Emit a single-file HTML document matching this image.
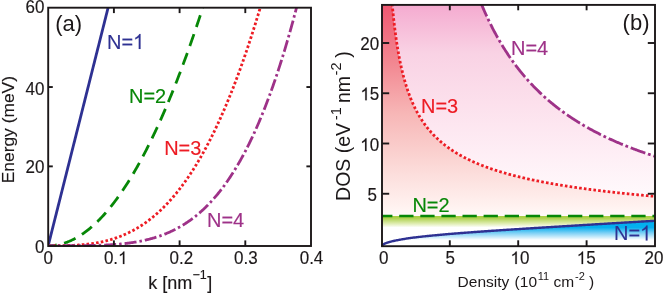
<!DOCTYPE html><html><head><meta charset="utf-8"><style>html,body{margin:0;padding:0;background:#fff;overflow:hidden}</style></head><body><svg width="664" height="293" viewBox="0 0 664 293" style="display:block;will-change:transform;font-family:'Liberation Sans',sans-serif">
<defs>
<linearGradient id="gb" gradientUnits="userSpaceOnUse" x1="0" y1="221" x2="0" y2="240"><stop offset="0.0000" stop-color="rgb(0,174,239)"/><stop offset="0.3421" stop-color="rgb(5,176,239)"/><stop offset="0.6316" stop-color="rgb(125,208,245)"/><stop offset="1.0000" stop-color="rgb(255,255,255)"/></linearGradient>
<linearGradient id="gg" gradientUnits="userSpaceOnUse" x1="0" y1="216" x2="0" y2="227.5"><stop offset="0.0000" stop-color="rgb(168,206,66)"/><stop offset="0.1739" stop-color="rgb(172,208,76)"/><stop offset="0.6087" stop-color="rgb(218,234,166)"/><stop offset="1.0000" stop-color="rgb(255,255,255)"/></linearGradient>
<linearGradient id="gr" gradientUnits="userSpaceOnUse" x1="0" y1="5" x2="0" y2="216"><stop offset="0.0000" stop-color="rgb(239,88,113)"/><stop offset="0.0142" stop-color="rgb(239,90,115)"/><stop offset="0.2749" stop-color="rgb(242,135,145)"/><stop offset="0.5118" stop-color="rgb(247,182,182)"/><stop offset="0.7488" stop-color="rgb(251,215,213)"/><stop offset="0.9621" stop-color="rgb(255,243,241)"/><stop offset="1.0000" stop-color="rgb(255,250,249)"/></linearGradient>
<linearGradient id="gp" gradientUnits="userSpaceOnUse" x1="0" y1="5" x2="0" y2="197"><stop offset="0.0000" stop-color="rgb(244,168,206)"/><stop offset="0.0260" stop-color="rgb(245,175,210)"/><stop offset="0.2500" stop-color="rgb(249,210,228)"/><stop offset="0.5104" stop-color="rgb(252,224,236)"/><stop offset="0.7708" stop-color="rgb(254,238,245)"/><stop offset="1.0000" stop-color="rgb(255,250,252)"/></linearGradient>
<clipPath id="ca"><rect x="48.2" y="7.7" width="262.80" height="239.20"/></clipPath>
<clipPath id="cb"><rect x="381.0" y="4.9" width="274.00" height="242.20"/></clipPath>
<clipPath id="cf"><rect x="382.0" y="4.9" width="273.00" height="241.30"/></clipPath>
</defs>
<rect width="664" height="293" fill="#fff"/>
<g clip-path="url(#cf)">
<path d="M481.32,3.90 L481.55,4.44 L482.07,5.68 L482.59,6.91 L483.11,8.12 L483.63,9.32 L484.15,10.51 L484.67,11.69 L485.19,12.86 L485.71,14.01 L486.23,15.15 L486.76,16.28 L487.28,17.41 L487.80,18.51 L488.32,19.61 L488.84,20.70 L489.36,21.78 L489.88,22.85 L490.40,23.90 L490.92,24.95 L491.44,25.99 L491.96,27.01 L492.48,28.03 L493.01,29.04 L493.53,30.04 L494.05,31.03 L494.57,32.01 L495.09,32.98 L495.61,33.94 L496.13,34.89 L496.65,35.84 L497.17,36.78 L497.69,37.70 L498.21,38.62 L498.74,39.54 L499.26,40.44 L499.78,41.33 L500.30,42.22 L500.82,43.10 L501.34,43.98 L501.86,44.84 L502.38,45.70 L502.90,46.55 L503.42,47.39 L503.94,48.23 L504.47,49.05 L504.99,49.88 L505.51,50.69 L506.03,51.50 L506.55,52.30 L507.07,53.09 L507.59,53.88 L508.11,54.66 L508.63,55.44 L509.15,56.21 L509.67,56.97 L510.19,57.73 L510.72,58.48 L511.24,59.22 L511.76,59.96 L512.28,60.69 L512.80,61.42 L513.32,62.14 L513.84,62.86 L514.36,63.57 L514.88,64.27 L515.40,64.97 L515.92,65.66 L516.45,66.35 L516.97,67.03 L517.49,67.71 L518.01,68.38 L518.53,69.05 L519.05,69.71 L519.57,70.37 L520.09,71.02 L520.61,71.67 L521.13,72.31 L521.65,72.95 L522.18,73.58 L522.70,74.21 L523.22,74.83 L523.74,75.45 L524.26,76.07 L524.78,76.68 L525.30,77.28 L525.82,77.88 L526.34,78.48 L526.86,79.07 L527.38,79.66 L527.90,80.24 L528.43,80.82 L528.95,81.40 L529.47,81.97 L529.99,82.54 L530.51,83.10 L531.03,83.66 L531.55,84.22 L532.07,84.77 L532.59,85.32 L533.11,85.87 L533.63,86.41 L534.16,86.95 L534.68,87.48 L535.20,88.01 L535.72,88.54 L536.24,89.06 L536.76,89.58 L537.28,90.09 L537.80,90.61 L538.32,91.12 L538.84,91.62 L539.36,92.12 L539.89,92.62 L540.41,93.12 L540.93,93.61 L541.45,94.10 L541.97,94.59 L542.49,95.07 L543.01,95.55 L543.53,96.03 L544.05,96.50 L544.57,96.97 L545.09,97.44 L545.61,97.91 L546.14,98.37 L546.66,98.83 L547.18,99.28 L547.70,99.74 L548.22,100.19 L548.74,100.63 L549.26,101.08 L549.78,101.52 L550.30,101.96 L550.82,102.40 L551.34,102.83 L551.87,103.26 L552.39,103.69 L552.91,104.12 L553.43,104.54 L553.95,104.96 L554.47,105.38 L554.99,105.80 L555.51,106.21 L556.03,106.62 L556.55,107.03 L557.07,107.43 L557.60,107.84 L558.12,108.24 L558.64,108.64 L559.16,109.04 L559.68,109.43 L560.20,109.82 L560.72,110.21 L561.24,110.60 L561.76,110.98 L562.28,111.37 L562.80,111.75 L563.32,112.13 L563.85,112.50 L564.37,112.88 L564.89,113.25 L565.41,113.62 L565.93,113.99 L566.45,114.35 L566.97,114.72 L567.49,115.08 L568.01,115.44 L568.53,115.80 L569.05,116.15 L569.58,116.51 L570.10,116.86 L570.62,117.21 L571.14,117.56 L571.66,117.90 L572.18,118.25 L572.70,118.59 L573.22,118.93 L573.74,119.27 L574.26,119.61 L574.78,119.94 L575.31,120.27 L575.83,120.61 L576.35,120.94 L576.87,121.26 L577.39,121.59 L577.91,121.91 L578.43,122.24 L578.95,122.56 L579.47,122.88 L579.99,123.20 L580.51,123.51 L581.03,123.83 L581.56,124.14 L582.08,124.45 L582.60,124.76 L583.12,125.07 L583.64,125.37 L584.16,125.68 L584.68,125.98 L585.20,126.28 L585.72,126.58 L586.24,126.88 L586.76,127.18 L587.29,127.47 L587.81,127.77 L588.33,128.06 L588.85,128.35 L589.37,128.64 L589.89,128.93 L590.41,129.22 L590.93,129.50 L591.45,129.79 L591.97,130.07 L592.49,130.35 L593.02,130.63 L593.54,130.91 L594.06,131.18 L594.58,131.46 L595.10,131.73 L595.62,132.01 L596.14,132.28 L596.66,132.55 L597.18,132.82 L597.70,133.09 L598.22,133.35 L598.74,133.62 L599.27,133.88 L599.79,134.14 L600.31,134.41 L600.83,134.67 L601.35,134.92 L601.87,135.18 L602.39,135.44 L602.91,135.69 L603.43,135.95 L603.95,136.20 L604.47,136.45 L605.00,136.70 L605.52,136.95 L606.04,137.20 L606.56,137.45 L607.08,137.69 L607.60,137.94 L608.12,138.18 L608.64,138.43 L609.16,138.67 L609.68,138.91 L610.20,139.15 L610.73,139.38 L611.25,139.62 L611.77,139.86 L612.29,140.09 L612.81,140.33 L613.33,140.56 L613.85,140.79 L614.37,141.02 L614.89,141.25 L615.41,141.48 L615.93,141.71 L616.45,141.93 L616.98,142.16 L617.50,142.38 L618.02,142.61 L618.54,142.83 L619.06,143.05 L619.58,143.27 L620.10,143.49 L620.62,143.71 L621.14,143.93 L621.66,144.15 L622.18,144.36 L622.71,144.58 L623.23,144.79 L623.75,145.01 L624.27,145.22 L624.79,145.43 L625.31,145.64 L625.83,145.85 L626.35,146.06 L626.87,146.27 L627.39,146.47 L627.91,146.68 L628.44,146.88 L628.96,147.09 L629.48,147.29 L630.00,147.49 L630.52,147.70 L631.04,147.90 L631.56,148.10 L632.08,148.30 L632.60,148.50 L633.12,148.69 L633.64,148.89 L634.16,149.09 L634.69,149.28 L635.21,149.48 L635.73,149.67 L636.25,149.86 L636.77,150.05 L637.29,150.25 L637.81,150.44 L638.33,150.63 L638.85,150.81 L639.37,151.00 L639.89,151.19 L640.42,151.38 L640.94,151.56 L641.46,151.75 L641.98,151.93 L642.50,152.12 L643.02,152.30 L643.54,152.48 L644.06,152.66 L644.58,152.84 L645.10,153.02 L645.62,153.20 L646.15,153.38 L646.67,153.56 L647.19,153.74 L647.71,153.91 L648.23,154.09 L648.75,154.26 L649.27,154.44 L649.79,154.61 L650.31,154.79 L650.83,154.96 L651.35,155.13 L651.87,155.30 L652.40,155.47 L652.92,155.64 L653.44,155.81 L653.96,155.98 L654.48,156.15 L655.00,156.31 L655.00,196.36 L654.48,196.31 L653.96,196.27 L653.44,196.22 L652.92,196.18 L652.40,196.13 L651.87,196.08 L651.35,196.04 L650.83,195.99 L650.31,195.94 L649.79,195.90 L649.27,195.85 L648.75,195.80 L648.23,195.76 L647.71,195.71 L647.19,195.66 L646.67,195.62 L646.15,195.57 L645.62,195.52 L645.10,195.47 L644.58,195.42 L644.06,195.38 L643.54,195.33 L643.02,195.28 L642.50,195.23 L641.98,195.18 L641.46,195.13 L640.94,195.08 L640.42,195.04 L639.89,194.99 L639.37,194.94 L638.85,194.89 L638.33,194.84 L637.81,194.79 L637.29,194.74 L636.77,194.69 L636.25,194.64 L635.73,194.59 L635.21,194.54 L634.69,194.48 L634.16,194.43 L633.64,194.38 L633.12,194.33 L632.60,194.28 L632.08,194.23 L631.56,194.18 L631.04,194.12 L630.52,194.07 L630.00,194.02 L629.48,193.97 L628.96,193.91 L628.44,193.86 L627.91,193.81 L627.39,193.76 L626.87,193.70 L626.35,193.65 L625.83,193.60 L625.31,193.54 L624.79,193.49 L624.27,193.43 L623.75,193.38 L623.23,193.33 L622.71,193.27 L622.18,193.22 L621.66,193.16 L621.14,193.11 L620.62,193.05 L620.10,192.99 L619.58,192.94 L619.06,192.88 L618.54,192.83 L618.02,192.77 L617.50,192.71 L616.98,192.66 L616.45,192.60 L615.93,192.54 L615.41,192.49 L614.89,192.43 L614.37,192.37 L613.85,192.31 L613.33,192.26 L612.81,192.20 L612.29,192.14 L611.77,192.08 L611.25,192.02 L610.73,191.96 L610.20,191.90 L609.68,191.84 L609.16,191.78 L608.64,191.72 L608.12,191.66 L607.60,191.60 L607.08,191.54 L606.56,191.48 L606.04,191.42 L605.52,191.36 L605.00,191.30 L604.47,191.24 L603.95,191.18 L603.43,191.11 L602.91,191.05 L602.39,190.99 L601.87,190.93 L601.35,190.86 L600.83,190.80 L600.31,190.74 L599.79,190.67 L599.27,190.61 L598.74,190.55 L598.22,190.48 L597.70,190.42 L597.18,190.35 L596.66,190.29 L596.14,190.22 L595.62,190.16 L595.10,190.09 L594.58,190.03 L594.06,189.96 L593.54,189.89 L593.02,189.83 L592.49,189.76 L591.97,189.69 L591.45,189.63 L590.93,189.56 L590.41,189.49 L589.89,189.42 L589.37,189.36 L588.85,189.29 L588.33,189.22 L587.81,189.15 L587.29,189.08 L586.76,189.01 L586.24,188.94 L585.72,188.87 L585.20,188.80 L584.68,188.73 L584.16,188.66 L583.64,188.59 L583.12,188.52 L582.60,188.44 L582.08,188.37 L581.56,188.30 L581.03,188.23 L580.51,188.15 L579.99,188.08 L579.47,188.01 L578.95,187.93 L578.43,187.86 L577.91,187.78 L577.39,187.71 L576.87,187.64 L576.35,187.56 L575.83,187.48 L575.31,187.41 L574.78,187.33 L574.26,187.26 L573.74,187.18 L573.22,187.10 L572.70,187.02 L572.18,186.95 L571.66,186.87 L571.14,186.79 L570.62,186.71 L570.10,186.63 L569.58,186.55 L569.05,186.47 L568.53,186.39 L568.01,186.31 L567.49,186.23 L566.97,186.15 L566.45,186.07 L565.93,185.99 L565.41,185.91 L564.89,185.82 L564.37,185.74 L563.85,185.66 L563.32,185.57 L562.80,185.49 L562.28,185.41 L561.76,185.32 L561.24,185.24 L560.72,185.15 L560.20,185.07 L559.68,184.98 L559.16,184.89 L558.64,184.81 L558.12,184.72 L557.60,184.63 L557.07,184.54 L556.55,184.46 L556.03,184.37 L555.51,184.28 L554.99,184.19 L554.47,184.10 L553.95,184.01 L553.43,183.92 L552.91,183.83 L552.39,183.74 L551.87,183.64 L551.34,183.55 L550.82,183.46 L550.30,183.36 L549.78,183.27 L549.26,183.18 L548.74,183.08 L548.22,182.99 L547.70,182.89 L547.18,182.80 L546.66,182.70 L546.14,182.60 L545.61,182.51 L545.09,182.41 L544.57,182.31 L544.05,182.21 L543.53,182.11 L543.01,182.01 L542.49,181.91 L541.97,181.81 L541.45,181.71 L540.93,181.61 L540.41,181.51 L539.89,181.40 L539.36,181.30 L538.84,181.20 L538.32,181.09 L537.80,180.99 L537.28,180.88 L536.76,180.78 L536.24,180.67 L535.72,180.56 L535.20,180.46 L534.68,180.35 L534.16,180.24 L533.63,180.13 L533.11,180.02 L532.59,179.91 L532.07,179.80 L531.55,179.69 L531.03,179.58 L530.51,179.47 L529.99,179.35 L529.47,179.24 L528.95,179.12 L528.43,179.01 L527.90,178.89 L527.38,178.78 L526.86,178.66 L526.34,178.54 L525.82,178.43 L525.30,178.31 L524.78,178.19 L524.26,178.07 L523.74,177.95 L523.22,177.83 L522.70,177.71 L522.18,177.58 L521.65,177.46 L521.13,177.34 L520.61,177.21 L520.09,177.09 L519.57,176.96 L519.05,176.83 L518.53,176.71 L518.01,176.58 L517.49,176.45 L516.97,176.32 L516.45,176.19 L515.92,176.06 L515.40,175.93 L514.88,175.79 L514.36,175.66 L513.84,175.52 L513.32,175.39 L512.80,175.25 L512.28,175.12 L511.76,174.98 L511.24,174.84 L510.72,174.70 L510.19,174.56 L509.67,174.42 L509.15,174.28 L508.63,174.14 L508.11,173.99 L507.59,173.85 L507.07,173.70 L506.55,173.56 L506.03,173.41 L505.51,173.26 L504.99,173.11 L504.47,172.96 L503.94,172.81 L503.42,172.66 L502.90,172.51 L502.38,172.36 L501.86,172.20 L501.34,172.04 L500.82,171.89 L500.30,171.73 L499.78,171.57 L499.26,171.41 L498.74,171.25 L498.21,171.09 L497.69,170.93 L497.17,170.76 L496.65,170.60 L496.13,170.43 L495.61,170.26 L495.09,170.09 L494.57,169.92 L494.05,169.75 L493.53,169.58 L493.01,169.41 L492.48,169.23 L491.96,169.06 L491.44,168.88 L490.92,168.70 L490.40,168.52 L489.88,168.34 L489.36,168.16 L488.84,167.97 L488.32,167.79 L487.80,167.60 L487.28,167.41 L486.76,167.23 L486.23,167.04 L485.71,166.84 L485.19,166.65 L484.67,166.45 L484.15,166.26 L483.63,166.06 L483.11,165.86 L482.59,165.66 L482.07,165.46 L481.55,165.25 L481.03,165.05 L480.50,164.84 L479.98,164.63 L479.46,164.42 L478.94,164.21 L478.42,164.00 L477.90,163.78 L477.38,163.56 L476.86,163.34 L476.34,163.12 L475.82,162.90 L475.30,162.68 L474.77,162.45 L474.25,162.22 L473.73,161.99 L473.21,161.76 L472.69,161.52 L472.17,161.29 L471.65,161.05 L471.13,160.81 L470.61,160.57 L470.09,160.32 L469.57,160.07 L469.05,159.83 L468.52,159.57 L468.00,159.32 L467.48,159.06 L466.96,158.81 L466.44,158.55 L465.92,158.28 L465.40,158.02 L464.88,157.75 L464.36,157.48 L463.84,157.21 L463.32,156.93 L462.79,156.65 L462.27,156.37 L461.75,156.09 L461.23,155.80 L460.71,155.51 L460.19,155.22 L459.67,154.93 L459.15,154.63 L458.63,154.33 L458.11,154.02 L457.59,153.72 L457.06,153.41 L456.54,153.09 L456.02,152.78 L455.50,152.46 L454.98,152.13 L454.46,151.81 L453.94,151.48 L453.42,151.14 L452.90,150.80 L452.38,150.46 L451.86,150.12 L451.34,149.77 L450.81,149.42 L450.29,149.06 L449.77,148.70 L449.25,148.33 L448.73,147.96 L448.21,147.59 L447.69,147.21 L447.17,146.83 L446.65,146.44 L446.13,146.05 L445.61,145.65 L445.08,145.25 L444.56,144.85 L444.04,144.43 L443.52,144.02 L443.00,143.60 L442.48,143.17 L441.96,142.74 L441.44,142.30 L440.92,141.85 L440.40,141.40 L439.88,140.95 L439.35,140.49 L438.83,140.02 L438.31,139.54 L437.79,139.06 L437.27,138.57 L436.75,138.08 L436.23,137.58 L435.71,137.07 L435.19,136.55 L434.67,136.03 L434.15,135.50 L433.63,134.96 L433.10,134.41 L432.58,133.85 L432.06,133.29 L431.54,132.71 L431.02,132.13 L430.50,131.54 L429.98,130.94 L429.46,130.33 L428.94,129.70 L428.42,129.07 L427.90,128.43 L427.37,127.78 L426.85,127.11 L426.33,126.44 L425.81,125.75 L425.29,125.05 L424.77,124.34 L424.25,123.61 L423.73,122.88 L423.21,122.12 L422.69,121.36 L422.17,120.58 L421.64,119.78 L421.12,118.97 L420.60,118.14 L420.08,117.30 L419.56,116.43 L419.04,115.56 L418.52,114.66 L418.00,113.74 L417.48,112.80 L416.96,111.85 L416.44,110.87 L415.92,109.87 L415.39,108.84 L414.87,107.79 L414.35,106.72 L413.83,105.62 L413.31,104.50 L412.79,103.35 L412.27,102.17 L411.75,100.95 L411.23,99.71 L410.71,98.43 L410.19,97.12 L409.66,95.77 L409.14,94.39 L408.62,92.97 L408.10,91.50 L407.58,89.99 L407.06,88.43 L406.54,86.83 L406.02,85.18 L405.50,83.47 L404.98,81.71 L404.46,79.88 L403.93,78.00 L403.41,76.04 L402.89,74.02 L402.37,71.92 L401.85,69.75 L401.33,67.48 L400.81,65.13 L400.29,62.68 L399.77,60.13 L399.25,57.46 L398.73,54.68 L398.21,51.77 L397.68,48.72 L397.16,45.52 L396.64,42.16 L396.12,38.62 L395.60,34.88 L395.08,30.94 L395.01,30.41 L394.94,29.87 L394.88,29.33 L394.81,28.79 L394.74,28.24 L394.67,27.69 L394.60,27.13 L394.54,26.57 L394.47,26.00 L394.40,25.43 L394.33,24.86 L394.26,24.28 L394.20,23.70 L394.13,23.11 L394.06,22.52 L393.99,21.92 L393.92,21.32 L393.85,20.71 L393.79,20.10 L393.72,19.48 L393.65,18.85 L393.58,18.23 L393.51,17.59 L393.45,16.96 L393.38,16.31 L393.31,15.66 L393.24,15.01 L393.17,14.35 L393.11,13.68 L393.04,13.01 L392.97,12.33 L392.90,11.64 L392.83,10.95 L392.77,10.26 L392.70,9.55 L392.63,8.84 L392.56,8.13 L392.49,7.41 L392.43,6.68 L392.36,5.94 L392.29,5.20 L392.22,4.45 L392.17,3.90 Z" fill="url(#gp)"/>
<path d="M392.17,3.90 L392.22,4.45 L392.29,5.20 L392.36,5.94 L392.43,6.68 L392.49,7.41 L392.56,8.13 L392.63,8.84 L392.70,9.55 L392.77,10.26 L392.83,10.95 L392.90,11.64 L392.97,12.33 L393.04,13.01 L393.11,13.68 L393.17,14.35 L393.24,15.01 L393.31,15.66 L393.38,16.31 L393.45,16.96 L393.51,17.59 L393.58,18.23 L393.65,18.85 L393.72,19.48 L393.79,20.10 L393.85,20.71 L393.92,21.32 L393.99,21.92 L394.06,22.52 L394.13,23.11 L394.20,23.70 L394.26,24.28 L394.33,24.86 L394.40,25.43 L394.47,26.00 L394.54,26.57 L394.60,27.13 L394.67,27.69 L394.74,28.24 L394.81,28.79 L394.88,29.33 L394.94,29.87 L395.01,30.41 L395.08,30.94 L395.60,34.88 L396.12,38.62 L396.64,42.16 L397.16,45.52 L397.68,48.72 L398.21,51.77 L398.73,54.68 L399.25,57.46 L399.77,60.13 L400.29,62.68 L400.81,65.13 L401.33,67.48 L401.85,69.75 L402.37,71.92 L402.89,74.02 L403.41,76.04 L403.93,78.00 L404.46,79.88 L404.98,81.71 L405.50,83.47 L406.02,85.18 L406.54,86.83 L407.06,88.43 L407.58,89.99 L408.10,91.50 L408.62,92.97 L409.14,94.39 L409.66,95.77 L410.19,97.12 L410.71,98.43 L411.23,99.71 L411.75,100.95 L412.27,102.17 L412.79,103.35 L413.31,104.50 L413.83,105.62 L414.35,106.72 L414.87,107.79 L415.39,108.84 L415.92,109.87 L416.44,110.87 L416.96,111.85 L417.48,112.80 L418.00,113.74 L418.52,114.66 L419.04,115.56 L419.56,116.43 L420.08,117.30 L420.60,118.14 L421.12,118.97 L421.64,119.78 L422.17,120.58 L422.69,121.36 L423.21,122.12 L423.73,122.88 L424.25,123.61 L424.77,124.34 L425.29,125.05 L425.81,125.75 L426.33,126.44 L426.85,127.11 L427.37,127.78 L427.90,128.43 L428.42,129.07 L428.94,129.70 L429.46,130.33 L429.98,130.94 L430.50,131.54 L431.02,132.13 L431.54,132.71 L432.06,133.29 L432.58,133.85 L433.10,134.41 L433.63,134.96 L434.15,135.50 L434.67,136.03 L435.19,136.55 L435.71,137.07 L436.23,137.58 L436.75,138.08 L437.27,138.57 L437.79,139.06 L438.31,139.54 L438.83,140.02 L439.35,140.49 L439.88,140.95 L440.40,141.40 L440.92,141.85 L441.44,142.30 L441.96,142.74 L442.48,143.17 L443.00,143.60 L443.52,144.02 L444.04,144.43 L444.56,144.85 L445.08,145.25 L445.61,145.65 L446.13,146.05 L446.65,146.44 L447.17,146.83 L447.69,147.21 L448.21,147.59 L448.73,147.96 L449.25,148.33 L449.77,148.70 L450.29,149.06 L450.81,149.42 L451.34,149.77 L451.86,150.12 L452.38,150.46 L452.90,150.80 L453.42,151.14 L453.94,151.48 L454.46,151.81 L454.98,152.13 L455.50,152.46 L456.02,152.78 L456.54,153.09 L457.06,153.41 L457.59,153.72 L458.11,154.02 L458.63,154.33 L459.15,154.63 L459.67,154.93 L460.19,155.22 L460.71,155.51 L461.23,155.80 L461.75,156.09 L462.27,156.37 L462.79,156.65 L463.32,156.93 L463.84,157.21 L464.36,157.48 L464.88,157.75 L465.40,158.02 L465.92,158.28 L466.44,158.55 L466.96,158.81 L467.48,159.06 L468.00,159.32 L468.52,159.57 L469.05,159.83 L469.57,160.07 L470.09,160.32 L470.61,160.57 L471.13,160.81 L471.65,161.05 L472.17,161.29 L472.69,161.52 L473.21,161.76 L473.73,161.99 L474.25,162.22 L474.77,162.45 L475.30,162.68 L475.82,162.90 L476.34,163.12 L476.86,163.34 L477.38,163.56 L477.90,163.78 L478.42,164.00 L478.94,164.21 L479.46,164.42 L479.98,164.63 L480.50,164.84 L481.03,165.05 L481.55,165.25 L482.07,165.46 L482.59,165.66 L483.11,165.86 L483.63,166.06 L484.15,166.26 L484.67,166.45 L485.19,166.65 L485.71,166.84 L486.23,167.04 L486.76,167.23 L487.28,167.41 L487.80,167.60 L488.32,167.79 L488.84,167.97 L489.36,168.16 L489.88,168.34 L490.40,168.52 L490.92,168.70 L491.44,168.88 L491.96,169.06 L492.48,169.23 L493.01,169.41 L493.53,169.58 L494.05,169.75 L494.57,169.92 L495.09,170.09 L495.61,170.26 L496.13,170.43 L496.65,170.60 L497.17,170.76 L497.69,170.93 L498.21,171.09 L498.74,171.25 L499.26,171.41 L499.78,171.57 L500.30,171.73 L500.82,171.89 L501.34,172.04 L501.86,172.20 L502.38,172.36 L502.90,172.51 L503.42,172.66 L503.94,172.81 L504.47,172.96 L504.99,173.11 L505.51,173.26 L506.03,173.41 L506.55,173.56 L507.07,173.70 L507.59,173.85 L508.11,173.99 L508.63,174.14 L509.15,174.28 L509.67,174.42 L510.19,174.56 L510.72,174.70 L511.24,174.84 L511.76,174.98 L512.28,175.12 L512.80,175.25 L513.32,175.39 L513.84,175.52 L514.36,175.66 L514.88,175.79 L515.40,175.93 L515.92,176.06 L516.45,176.19 L516.97,176.32 L517.49,176.45 L518.01,176.58 L518.53,176.71 L519.05,176.83 L519.57,176.96 L520.09,177.09 L520.61,177.21 L521.13,177.34 L521.65,177.46 L522.18,177.58 L522.70,177.71 L523.22,177.83 L523.74,177.95 L524.26,178.07 L524.78,178.19 L525.30,178.31 L525.82,178.43 L526.34,178.54 L526.86,178.66 L527.38,178.78 L527.90,178.89 L528.43,179.01 L528.95,179.12 L529.47,179.24 L529.99,179.35 L530.51,179.47 L531.03,179.58 L531.55,179.69 L532.07,179.80 L532.59,179.91 L533.11,180.02 L533.63,180.13 L534.16,180.24 L534.68,180.35 L535.20,180.46 L535.72,180.56 L536.24,180.67 L536.76,180.78 L537.28,180.88 L537.80,180.99 L538.32,181.09 L538.84,181.20 L539.36,181.30 L539.89,181.40 L540.41,181.51 L540.93,181.61 L541.45,181.71 L541.97,181.81 L542.49,181.91 L543.01,182.01 L543.53,182.11 L544.05,182.21 L544.57,182.31 L545.09,182.41 L545.61,182.51 L546.14,182.60 L546.66,182.70 L547.18,182.80 L547.70,182.89 L548.22,182.99 L548.74,183.08 L549.26,183.18 L549.78,183.27 L550.30,183.36 L550.82,183.46 L551.34,183.55 L551.87,183.64 L552.39,183.74 L552.91,183.83 L553.43,183.92 L553.95,184.01 L554.47,184.10 L554.99,184.19 L555.51,184.28 L556.03,184.37 L556.55,184.46 L557.07,184.54 L557.60,184.63 L558.12,184.72 L558.64,184.81 L559.16,184.89 L559.68,184.98 L560.20,185.07 L560.72,185.15 L561.24,185.24 L561.76,185.32 L562.28,185.41 L562.80,185.49 L563.32,185.57 L563.85,185.66 L564.37,185.74 L564.89,185.82 L565.41,185.91 L565.93,185.99 L566.45,186.07 L566.97,186.15 L567.49,186.23 L568.01,186.31 L568.53,186.39 L569.05,186.47 L569.58,186.55 L570.10,186.63 L570.62,186.71 L571.14,186.79 L571.66,186.87 L572.18,186.95 L572.70,187.02 L573.22,187.10 L573.74,187.18 L574.26,187.26 L574.78,187.33 L575.31,187.41 L575.83,187.48 L576.35,187.56 L576.87,187.64 L577.39,187.71 L577.91,187.78 L578.43,187.86 L578.95,187.93 L579.47,188.01 L579.99,188.08 L580.51,188.15 L581.03,188.23 L581.56,188.30 L582.08,188.37 L582.60,188.44 L583.12,188.52 L583.64,188.59 L584.16,188.66 L584.68,188.73 L585.20,188.80 L585.72,188.87 L586.24,188.94 L586.76,189.01 L587.29,189.08 L587.81,189.15 L588.33,189.22 L588.85,189.29 L589.37,189.36 L589.89,189.42 L590.41,189.49 L590.93,189.56 L591.45,189.63 L591.97,189.69 L592.49,189.76 L593.02,189.83 L593.54,189.89 L594.06,189.96 L594.58,190.03 L595.10,190.09 L595.62,190.16 L596.14,190.22 L596.66,190.29 L597.18,190.35 L597.70,190.42 L598.22,190.48 L598.74,190.55 L599.27,190.61 L599.79,190.67 L600.31,190.74 L600.83,190.80 L601.35,190.86 L601.87,190.93 L602.39,190.99 L602.91,191.05 L603.43,191.11 L603.95,191.18 L604.47,191.24 L605.00,191.30 L605.52,191.36 L606.04,191.42 L606.56,191.48 L607.08,191.54 L607.60,191.60 L608.12,191.66 L608.64,191.72 L609.16,191.78 L609.68,191.84 L610.20,191.90 L610.73,191.96 L611.25,192.02 L611.77,192.08 L612.29,192.14 L612.81,192.20 L613.33,192.26 L613.85,192.31 L614.37,192.37 L614.89,192.43 L615.41,192.49 L615.93,192.54 L616.45,192.60 L616.98,192.66 L617.50,192.71 L618.02,192.77 L618.54,192.83 L619.06,192.88 L619.58,192.94 L620.10,192.99 L620.62,193.05 L621.14,193.11 L621.66,193.16 L622.18,193.22 L622.71,193.27 L623.23,193.33 L623.75,193.38 L624.27,193.43 L624.79,193.49 L625.31,193.54 L625.83,193.60 L626.35,193.65 L626.87,193.70 L627.39,193.76 L627.91,193.81 L628.44,193.86 L628.96,193.91 L629.48,193.97 L630.00,194.02 L630.52,194.07 L631.04,194.12 L631.56,194.18 L632.08,194.23 L632.60,194.28 L633.12,194.33 L633.64,194.38 L634.16,194.43 L634.69,194.48 L635.21,194.54 L635.73,194.59 L636.25,194.64 L636.77,194.69 L637.29,194.74 L637.81,194.79 L638.33,194.84 L638.85,194.89 L639.37,194.94 L639.89,194.99 L640.42,195.04 L640.94,195.08 L641.46,195.13 L641.98,195.18 L642.50,195.23 L643.02,195.28 L643.54,195.33 L644.06,195.38 L644.58,195.42 L645.10,195.47 L645.62,195.52 L646.15,195.57 L646.67,195.62 L647.19,195.66 L647.71,195.71 L648.23,195.76 L648.75,195.80 L649.27,195.85 L649.79,195.90 L650.31,195.94 L650.83,195.99 L651.35,196.04 L651.87,196.08 L652.40,196.13 L652.92,196.18 L653.44,196.22 L653.96,196.27 L654.48,196.31 L655.00,196.36 L655.00,216.00 L382.00,216.00 L382.00,4.90 Z" fill="url(#gr)"/>
<path d="M382.00,216.00 L655.00,216.00 L655.00,220.80 L654.11,220.85 L653.23,220.90 L652.34,220.95 L651.45,221.00 L650.57,221.06 L649.68,221.11 L648.80,221.16 L647.91,221.21 L647.02,221.26 L646.14,221.31 L645.25,221.36 L644.36,221.41 L643.48,221.47 L642.59,221.52 L641.71,221.57 L640.82,221.62 L639.93,221.67 L639.05,221.73 L638.16,221.78 L637.27,221.83 L636.39,221.88 L635.50,221.93 L634.62,221.99 L633.73,222.04 L632.84,222.09 L631.96,222.14 L631.07,222.19 L630.18,222.25 L629.30,222.30 L628.41,222.35 L627.53,222.40 L626.64,222.46 L625.75,222.51 L624.87,222.56 L623.98,222.61 L623.09,222.67 L622.21,222.72 L621.32,222.77 L620.43,222.83 L619.55,222.88 L618.66,222.93 L617.78,222.98 L616.89,223.04 L616.00,223.09 L615.12,223.14 L614.23,223.20 L613.34,223.25 L612.46,223.30 L611.57,223.36 L610.69,223.41 L609.80,223.46 L608.91,223.52 L608.03,223.57 L607.14,223.62 L606.25,223.68 L605.37,223.73 L604.48,223.78 L603.60,223.84 L602.71,223.89 L601.82,223.94 L600.94,224.00 L600.05,224.05 L599.16,224.10 L598.28,224.16 L597.39,224.21 L596.51,224.26 L595.62,224.32 L594.73,224.37 L593.85,224.42 L592.96,224.48 L592.07,224.53 L591.19,224.58 L590.30,224.64 L589.41,224.69 L588.53,224.75 L587.64,224.80 L586.76,224.85 L585.87,224.91 L584.98,224.96 L584.10,225.02 L583.21,225.07 L582.32,225.12 L581.44,225.18 L580.55,225.23 L579.67,225.28 L578.78,225.34 L577.89,225.39 L577.01,225.45 L576.12,225.50 L575.23,225.55 L574.35,225.61 L573.46,225.66 L572.58,225.72 L571.69,225.77 L570.80,225.83 L569.92,225.88 L569.03,225.93 L568.14,225.99 L567.26,226.04 L566.37,226.10 L565.48,226.15 L564.60,226.20 L563.71,226.26 L562.83,226.31 L561.94,226.37 L561.05,226.42 L560.17,226.48 L559.28,226.53 L558.39,226.59 L557.51,226.64 L556.62,226.69 L555.74,226.75 L554.85,226.80 L553.96,226.86 L553.08,226.91 L552.19,226.97 L551.30,227.02 L550.42,227.08 L549.53,227.13 L548.65,227.19 L547.76,227.24 L546.87,227.30 L545.99,227.35 L545.10,227.41 L544.21,227.46 L543.33,227.52 L542.44,227.57 L541.56,227.63 L540.67,227.68 L539.78,227.74 L538.90,227.79 L538.01,227.85 L537.12,227.90 L536.24,227.96 L535.35,228.01 L534.46,228.07 L533.58,228.12 L532.69,228.18 L531.81,228.23 L530.92,228.29 L530.03,228.35 L529.15,228.40 L528.26,228.46 L527.37,228.51 L526.49,228.57 L525.60,228.63 L524.72,228.68 L523.83,228.74 L522.94,228.79 L522.06,228.85 L521.17,228.91 L520.28,228.96 L519.40,229.02 L518.51,229.08 L517.63,229.13 L516.74,229.19 L515.85,229.25 L514.97,229.30 L514.08,229.36 L513.19,229.42 L512.31,229.47 L511.42,229.53 L510.54,229.59 L509.65,229.65 L508.76,229.70 L507.88,229.76 L506.99,229.82 L506.10,229.88 L505.22,229.94 L504.33,229.99 L503.44,230.05 L502.56,230.11 L501.67,230.17 L500.79,230.23 L499.90,230.29 L499.01,230.35 L498.13,230.40 L497.24,230.46 L496.35,230.52 L495.47,230.58 L494.58,230.64 L493.70,230.70 L492.81,230.76 L491.92,230.82 L491.04,230.88 L490.15,230.94 L489.26,231.00 L488.38,231.06 L487.49,231.13 L486.61,231.19 L485.72,231.25 L484.83,231.31 L483.95,231.37 L483.06,231.43 L482.17,231.50 L481.29,231.56 L480.40,231.62 L479.52,231.68 L478.63,231.75 L477.74,231.81 L476.86,231.87 L475.97,231.94 L475.08,232.00 L474.20,232.07 L473.31,232.13 L472.42,232.20 L471.54,232.26 L470.65,232.33 L469.77,232.39 L468.88,232.46 L467.99,232.52 L467.11,232.59 L466.22,232.66 L465.33,232.72 L464.45,232.79 L463.56,232.86 L462.68,232.93 L461.79,233.00 L460.90,233.07 L460.02,233.14 L459.13,233.20 L458.24,233.27 L457.36,233.35 L456.47,233.42 L455.59,233.49 L454.70,233.56 L453.81,233.63 L452.93,233.70 L452.04,233.78 L451.15,233.85 L450.27,233.92 L449.38,234.00 L448.49,234.07 L447.61,234.15 L446.72,234.22 L445.84,234.30 L444.95,234.38 L444.06,234.45 L443.18,234.53 L442.29,234.61 L441.40,234.69 L440.52,234.77 L439.63,234.85 L438.75,234.93 L437.86,235.01 L436.97,235.10 L436.09,235.18 L435.20,235.26 L434.31,235.35 L433.43,235.43 L432.54,235.52 L431.66,235.61 L430.77,235.69 L429.88,235.78 L429.00,235.87 L428.11,235.96 L427.22,236.06 L426.34,236.15 L425.45,236.24 L424.57,236.34 L423.68,236.43 L422.79,236.53 L421.91,236.63 L421.02,236.72 L420.13,236.82 L419.25,236.93 L418.36,237.03 L417.47,237.13 L416.59,237.24 L415.70,237.35 L414.82,237.45 L413.93,237.56 L413.04,237.68 L412.16,237.79 L411.27,237.90 L410.38,238.02 L409.50,238.14 L408.61,238.27 L407.73,238.40 L406.84,238.54 L405.95,238.68 L405.07,238.82 L404.18,238.96 L403.29,239.11 L402.41,239.26 L401.52,239.41 L400.64,239.56 L399.75,239.72 L398.86,239.89 L397.98,240.06 L397.09,240.23 L396.20,240.41 L395.32,240.59 L394.43,240.78 L393.55,240.98 L392.66,241.18 L391.77,241.39 L390.89,241.62 L390.00,241.85 L389.90,241.88 L389.80,241.91 L389.70,241.94 L389.59,241.96 L389.49,241.99 L389.39,242.02 L389.29,242.05 L389.19,242.08 L389.09,242.11 L388.99,242.14 L388.89,242.17 L388.78,242.20 L388.68,242.23 L388.58,242.26 L388.48,242.29 L388.38,242.32 L388.28,242.35 L388.18,242.38 L388.08,242.41 L387.97,242.44 L387.87,242.47 L387.77,242.51 L387.67,242.54 L387.57,242.57 L387.47,242.61 L387.37,242.64 L387.27,242.67 L387.16,242.71 L387.06,242.74 L386.96,242.78 L386.86,242.81 L386.76,242.85 L386.66,242.88 L386.56,242.92 L386.46,242.96 L386.35,242.99 L386.25,243.03 L386.15,243.07 L386.05,243.11 L385.95,243.14 L385.85,243.18 L385.75,243.22 L385.65,243.26 L385.54,243.31 L385.44,243.35 L385.34,243.39 L385.24,243.43 L385.14,243.48 L385.04,243.52 L384.94,243.57 L384.84,243.61 L384.73,243.66 L384.63,243.71 L384.53,243.75 L384.43,243.80 L384.33,243.85 L384.23,243.91 L384.13,243.96 L384.03,244.01 L383.92,244.07 L383.82,244.12 L383.72,244.18 L383.62,244.24 L383.52,244.31 L383.42,244.37 L383.32,244.44 L383.22,244.51 L383.11,244.58 L383.01,244.65 L382.91,244.73 L382.81,244.82 L382.71,244.91 L382.61,245.00 L382.51,245.11 L382.41,245.22 L382.30,245.35 L382.20,245.51 L382.10,245.71 L382.00,246.20 Z" fill="url(#gg)"/>
<path d="M382.00,246.20 L382.10,245.71 L382.20,245.51 L382.30,245.35 L382.41,245.22 L382.51,245.11 L382.61,245.00 L382.71,244.91 L382.81,244.82 L382.91,244.73 L383.01,244.65 L383.11,244.58 L383.22,244.51 L383.32,244.44 L383.42,244.37 L383.52,244.31 L383.62,244.24 L383.72,244.18 L383.82,244.12 L383.92,244.07 L384.03,244.01 L384.13,243.96 L384.23,243.91 L384.33,243.85 L384.43,243.80 L384.53,243.75 L384.63,243.71 L384.73,243.66 L384.84,243.61 L384.94,243.57 L385.04,243.52 L385.14,243.48 L385.24,243.43 L385.34,243.39 L385.44,243.35 L385.54,243.31 L385.65,243.26 L385.75,243.22 L385.85,243.18 L385.95,243.14 L386.05,243.11 L386.15,243.07 L386.25,243.03 L386.35,242.99 L386.46,242.96 L386.56,242.92 L386.66,242.88 L386.76,242.85 L386.86,242.81 L386.96,242.78 L387.06,242.74 L387.16,242.71 L387.27,242.67 L387.37,242.64 L387.47,242.61 L387.57,242.57 L387.67,242.54 L387.77,242.51 L387.87,242.47 L387.97,242.44 L388.08,242.41 L388.18,242.38 L388.28,242.35 L388.38,242.32 L388.48,242.29 L388.58,242.26 L388.68,242.23 L388.78,242.20 L388.89,242.17 L388.99,242.14 L389.09,242.11 L389.19,242.08 L389.29,242.05 L389.39,242.02 L389.49,241.99 L389.59,241.96 L389.70,241.94 L389.80,241.91 L389.90,241.88 L390.00,241.85 L390.89,241.62 L391.77,241.39 L392.66,241.18 L393.55,240.98 L394.43,240.78 L395.32,240.59 L396.20,240.41 L397.09,240.23 L397.98,240.06 L398.86,239.89 L399.75,239.72 L400.64,239.56 L401.52,239.41 L402.41,239.26 L403.29,239.11 L404.18,238.96 L405.07,238.82 L405.95,238.68 L406.84,238.54 L407.73,238.40 L408.61,238.27 L409.50,238.14 L410.38,238.02 L411.27,237.90 L412.16,237.79 L413.04,237.68 L413.93,237.56 L414.82,237.45 L415.70,237.35 L416.59,237.24 L417.47,237.13 L418.36,237.03 L419.25,236.93 L420.13,236.82 L421.02,236.72 L421.91,236.63 L422.79,236.53 L423.68,236.43 L424.57,236.34 L425.45,236.24 L426.34,236.15 L427.22,236.06 L428.11,235.96 L429.00,235.87 L429.88,235.78 L430.77,235.69 L431.66,235.61 L432.54,235.52 L433.43,235.43 L434.31,235.35 L435.20,235.26 L436.09,235.18 L436.97,235.10 L437.86,235.01 L438.75,234.93 L439.63,234.85 L440.52,234.77 L441.40,234.69 L442.29,234.61 L443.18,234.53 L444.06,234.45 L444.95,234.38 L445.84,234.30 L446.72,234.22 L447.61,234.15 L448.49,234.07 L449.38,234.00 L450.27,233.92 L451.15,233.85 L452.04,233.78 L452.93,233.70 L453.81,233.63 L454.70,233.56 L455.59,233.49 L456.47,233.42 L457.36,233.35 L458.24,233.27 L459.13,233.20 L460.02,233.14 L460.90,233.07 L461.79,233.00 L462.68,232.93 L463.56,232.86 L464.45,232.79 L465.33,232.72 L466.22,232.66 L467.11,232.59 L467.99,232.52 L468.88,232.46 L469.77,232.39 L470.65,232.33 L471.54,232.26 L472.42,232.20 L473.31,232.13 L474.20,232.07 L475.08,232.00 L475.97,231.94 L476.86,231.87 L477.74,231.81 L478.63,231.75 L479.52,231.68 L480.40,231.62 L481.29,231.56 L482.17,231.50 L483.06,231.43 L483.95,231.37 L484.83,231.31 L485.72,231.25 L486.61,231.19 L487.49,231.13 L488.38,231.06 L489.26,231.00 L490.15,230.94 L491.04,230.88 L491.92,230.82 L492.81,230.76 L493.70,230.70 L494.58,230.64 L495.47,230.58 L496.35,230.52 L497.24,230.46 L498.13,230.40 L499.01,230.35 L499.90,230.29 L500.79,230.23 L501.67,230.17 L502.56,230.11 L503.44,230.05 L504.33,229.99 L505.22,229.94 L506.10,229.88 L506.99,229.82 L507.88,229.76 L508.76,229.70 L509.65,229.65 L510.54,229.59 L511.42,229.53 L512.31,229.47 L513.19,229.42 L514.08,229.36 L514.97,229.30 L515.85,229.25 L516.74,229.19 L517.63,229.13 L518.51,229.08 L519.40,229.02 L520.28,228.96 L521.17,228.91 L522.06,228.85 L522.94,228.79 L523.83,228.74 L524.72,228.68 L525.60,228.63 L526.49,228.57 L527.37,228.51 L528.26,228.46 L529.15,228.40 L530.03,228.35 L530.92,228.29 L531.81,228.23 L532.69,228.18 L533.58,228.12 L534.46,228.07 L535.35,228.01 L536.24,227.96 L537.12,227.90 L538.01,227.85 L538.90,227.79 L539.78,227.74 L540.67,227.68 L541.56,227.63 L542.44,227.57 L543.33,227.52 L544.21,227.46 L545.10,227.41 L545.99,227.35 L546.87,227.30 L547.76,227.24 L548.65,227.19 L549.53,227.13 L550.42,227.08 L551.30,227.02 L552.19,226.97 L553.08,226.91 L553.96,226.86 L554.85,226.80 L555.74,226.75 L556.62,226.69 L557.51,226.64 L558.39,226.59 L559.28,226.53 L560.17,226.48 L561.05,226.42 L561.94,226.37 L562.83,226.31 L563.71,226.26 L564.60,226.20 L565.48,226.15 L566.37,226.10 L567.26,226.04 L568.14,225.99 L569.03,225.93 L569.92,225.88 L570.80,225.83 L571.69,225.77 L572.58,225.72 L573.46,225.66 L574.35,225.61 L575.23,225.55 L576.12,225.50 L577.01,225.45 L577.89,225.39 L578.78,225.34 L579.67,225.28 L580.55,225.23 L581.44,225.18 L582.32,225.12 L583.21,225.07 L584.10,225.02 L584.98,224.96 L585.87,224.91 L586.76,224.85 L587.64,224.80 L588.53,224.75 L589.41,224.69 L590.30,224.64 L591.19,224.58 L592.07,224.53 L592.96,224.48 L593.85,224.42 L594.73,224.37 L595.62,224.32 L596.51,224.26 L597.39,224.21 L598.28,224.16 L599.16,224.10 L600.05,224.05 L600.94,224.00 L601.82,223.94 L602.71,223.89 L603.60,223.84 L604.48,223.78 L605.37,223.73 L606.25,223.68 L607.14,223.62 L608.03,223.57 L608.91,223.52 L609.80,223.46 L610.69,223.41 L611.57,223.36 L612.46,223.30 L613.34,223.25 L614.23,223.20 L615.12,223.14 L616.00,223.09 L616.89,223.04 L617.78,222.98 L618.66,222.93 L619.55,222.88 L620.43,222.83 L621.32,222.77 L622.21,222.72 L623.09,222.67 L623.98,222.61 L624.87,222.56 L625.75,222.51 L626.64,222.46 L627.53,222.40 L628.41,222.35 L629.30,222.30 L630.18,222.25 L631.07,222.19 L631.96,222.14 L632.84,222.09 L633.73,222.04 L634.62,221.99 L635.50,221.93 L636.39,221.88 L637.27,221.83 L638.16,221.78 L639.05,221.73 L639.93,221.67 L640.82,221.62 L641.71,221.57 L642.59,221.52 L643.48,221.47 L644.36,221.41 L645.25,221.36 L646.14,221.31 L647.02,221.26 L647.91,221.21 L648.80,221.16 L649.68,221.11 L650.57,221.06 L651.45,221.00 L652.34,220.95 L653.23,220.90 L654.11,220.85 L655.00,220.80 L655.00,246.20 L382.00,246.20 Z" fill="url(#gb)"/>
</g>
<g clip-path="url(#ca)" fill="none" stroke-width="2.8">
<path d="M48.20,245.70 L48.86,243.08 L49.52,240.47 L50.18,237.85 L50.83,235.23 L51.49,232.62 L52.15,230.00 L52.81,227.38 L53.47,224.77 L54.13,222.15 L54.79,219.53 L55.45,216.92 L56.10,214.30 L56.76,211.68 L57.42,209.07 L58.08,206.45 L58.74,203.83 L59.40,201.22 L60.06,198.60 L60.71,195.98 L61.37,193.37 L62.03,190.75 L62.69,188.13 L63.35,185.52 L64.01,182.90 L64.67,180.28 L65.32,177.67 L65.98,175.05 L66.64,172.43 L67.30,169.82 L67.96,167.20 L68.62,164.59 L69.28,161.97 L69.94,159.35 L70.59,156.74 L71.25,154.12 L71.91,151.50 L72.57,148.89 L73.23,146.27 L73.89,143.65 L74.55,141.04 L75.20,138.42 L75.86,135.80 L76.52,133.19 L77.18,130.57 L77.84,127.95 L78.50,125.34 L79.16,122.72 L79.82,120.10 L80.47,117.49 L81.13,114.87 L81.79,112.25 L82.45,109.64 L83.11,107.02 L83.77,104.40 L84.43,101.79 L85.08,99.17 L85.74,96.55 L86.40,93.94 L87.06,91.32 L87.72,88.70 L88.38,86.09 L89.04,83.47 L89.69,80.85 L90.35,78.24 L91.01,75.62 L91.67,73.00 L92.33,70.39 L92.99,67.77 L93.65,65.15 L94.31,62.54 L94.96,59.92 L95.62,57.30 L96.28,54.69 L96.94,52.07 L97.60,49.45 L98.26,46.84 L98.92,44.22 L99.57,41.60 L100.23,38.99 L100.89,36.37 L101.55,33.75 L102.21,31.14 L102.87,28.52 L103.53,25.90 L104.18,23.29 L104.84,20.67 L105.50,18.06 L106.16,15.44 L106.82,12.82 L107.48,10.21 L108.14,7.59 L108.80,4.97 L109.11,3.73" stroke="#2e3192" stroke-width="2.8"/>
<path d="M48.20,245.70 L48.86,245.70 L49.52,245.68 L50.18,245.66 L50.83,245.63 L51.49,245.59 L52.15,245.54 L52.81,245.49 L53.47,245.42 L54.13,245.35 L54.79,245.27 L55.45,245.18 L56.10,245.08 L56.76,244.97 L57.42,244.85 L58.08,244.73 L58.74,244.59 L59.40,244.45 L60.06,244.30 L60.71,244.14 L61.37,243.97 L62.03,243.79 L62.69,243.61 L63.35,243.41 L64.01,243.21 L64.67,243.00 L65.32,242.78 L65.98,242.55 L66.64,242.31 L67.30,242.07 L67.96,241.81 L68.62,241.55 L69.28,241.28 L69.94,240.99 L70.59,240.71 L71.25,240.41 L71.91,240.10 L72.57,239.79 L73.23,239.46 L73.89,239.13 L74.55,238.79 L75.20,238.44 L75.86,238.08 L76.52,237.71 L77.18,237.34 L77.84,236.95 L78.50,236.56 L79.16,236.16 L79.82,235.75 L80.47,235.33 L81.13,234.90 L81.79,234.46 L82.45,234.02 L83.11,233.56 L83.77,233.10 L84.43,232.63 L85.08,232.15 L85.74,231.66 L86.40,231.17 L87.06,230.66 L87.72,230.15 L88.38,229.62 L89.04,229.09 L89.69,228.55 L90.35,228.00 L91.01,227.45 L91.67,226.88 L92.33,226.31 L92.99,225.72 L93.65,225.13 L94.31,224.53 L94.96,223.92 L95.62,223.30 L96.28,222.68 L96.94,222.04 L97.60,221.40 L98.26,220.74 L98.92,220.08 L99.57,219.41 L100.23,218.74 L100.89,218.05 L101.55,217.35 L102.21,216.65 L102.87,215.94 L103.53,215.21 L104.18,214.48 L104.84,213.75 L105.50,213.00 L106.16,212.24 L106.82,211.48 L107.48,210.70 L108.14,209.92 L108.80,209.13 L109.45,208.33 L110.11,207.52 L110.77,206.71 L111.43,205.88 L112.09,205.05 L112.75,204.21 L113.41,203.35 L114.06,202.49 L114.72,201.63 L115.38,200.75 L116.04,199.86 L116.70,198.97 L117.36,198.07 L118.02,197.15 L118.68,196.23 L119.33,195.31 L119.99,194.37 L120.65,193.42 L121.31,192.47 L121.97,191.50 L122.63,190.53 L123.29,189.55 L123.94,188.56 L124.60,187.56 L125.26,186.56 L125.92,185.54 L126.58,184.52 L127.24,183.48 L127.90,182.44 L128.55,181.39 L129.21,180.34 L129.87,179.27 L130.53,178.19 L131.19,177.11 L131.85,176.01 L132.51,174.91 L133.17,173.80 L133.82,172.68 L134.48,171.56 L135.14,170.42 L135.80,169.27 L136.46,168.12 L137.12,166.96 L137.78,165.79 L138.43,164.61 L139.09,163.42 L139.75,162.22 L140.41,161.02 L141.07,159.80 L141.73,158.58 L142.39,157.35 L143.05,156.11 L143.70,154.86 L144.36,153.60 L145.02,152.34 L145.68,151.06 L146.34,149.78 L147.00,148.49 L147.66,147.19 L148.31,145.88 L148.97,144.56 L149.63,143.23 L150.29,141.90 L150.95,140.56 L151.61,139.20 L152.27,137.84 L152.92,136.47 L153.58,135.09 L154.24,133.71 L154.90,132.31 L155.56,130.91 L156.22,129.50 L156.88,128.07 L157.54,126.64 L158.19,125.21 L158.85,123.76 L159.51,122.30 L160.17,120.84 L160.83,119.36 L161.49,117.88 L162.15,116.39 L162.80,114.89 L163.46,113.38 L164.12,111.87 L164.78,110.34 L165.44,108.81 L166.10,107.27 L166.76,105.72 L167.42,104.16 L168.07,102.59 L168.73,101.01 L169.39,99.42 L170.05,97.83 L170.71,96.23 L171.37,94.62 L172.03,93.00 L172.68,91.37 L173.34,89.73 L174.00,88.08 L174.66,86.43 L175.32,84.77 L175.98,83.09 L176.64,81.41 L177.29,79.72 L177.95,78.03 L178.61,76.32 L179.27,74.60 L179.93,72.88 L180.59,71.15 L181.25,69.41 L181.91,67.66 L182.56,65.90 L183.22,64.13 L183.88,62.35 L184.54,60.57 L185.20,58.78 L185.86,56.98 L186.52,55.17 L187.17,53.35 L187.83,51.52 L188.49,49.68 L189.15,47.84 L189.81,45.98 L190.47,44.12 L191.13,42.25 L191.78,40.37 L192.44,38.48 L193.10,36.59 L193.76,34.68 L194.42,32.77 L195.08,30.85 L195.74,28.91 L196.40,26.97 L197.05,25.03 L197.71,23.07 L198.37,21.10 L199.03,19.13 L199.69,17.15 L200.35,15.15 L201.01,13.15 L201.66,11.14 L202.32,9.13 L202.98,7.10 L203.64,5.06 L204.07,3.73" stroke="#078707" stroke-dasharray="12.5 7.5" stroke-dashoffset="3.9"/>
<path d="M48.20,245.70 L48.86,245.70 L49.52,245.70 L50.18,245.70 L50.83,245.70 L51.49,245.70 L52.15,245.70 L52.81,245.70 L53.47,245.70 L54.13,245.69 L54.79,245.69 L55.45,245.69 L56.10,245.69 L56.76,245.68 L57.42,245.68 L58.08,245.68 L58.74,245.67 L59.40,245.66 L60.06,245.66 L60.71,245.65 L61.37,245.64 L62.03,245.63 L62.69,245.62 L63.35,245.61 L64.01,245.60 L64.67,245.59 L65.32,245.57 L65.98,245.56 L66.64,245.54 L67.30,245.53 L67.96,245.51 L68.62,245.49 L69.28,245.47 L69.94,245.44 L70.59,245.42 L71.25,245.39 L71.91,245.37 L72.57,245.34 L73.23,245.31 L73.89,245.28 L74.55,245.24 L75.20,245.21 L75.86,245.17 L76.52,245.13 L77.18,245.09 L77.84,245.05 L78.50,245.01 L79.16,244.96 L79.82,244.91 L80.47,244.86 L81.13,244.81 L81.79,244.75 L82.45,244.70 L83.11,244.64 L83.77,244.58 L84.43,244.51 L85.08,244.45 L85.74,244.38 L86.40,244.31 L87.06,244.23 L87.72,244.16 L88.38,244.08 L89.04,244.00 L89.69,243.92 L90.35,243.83 L91.01,243.74 L91.67,243.65 L92.33,243.55 L92.99,243.46 L93.65,243.36 L94.31,243.25 L94.96,243.15 L95.62,243.04 L96.28,242.92 L96.94,242.81 L97.60,242.69 L98.26,242.57 L98.92,242.44 L99.57,242.31 L100.23,242.18 L100.89,242.05 L101.55,241.91 L102.21,241.77 L102.87,241.62 L103.53,241.47 L104.18,241.32 L104.84,241.16 L105.50,241.00 L106.16,240.84 L106.82,240.67 L107.48,240.50 L108.14,240.32 L108.80,240.14 L109.45,239.96 L110.11,239.77 L110.77,239.58 L111.43,239.39 L112.09,239.19 L112.75,238.99 L113.41,238.78 L114.06,238.57 L114.72,238.35 L115.38,238.13 L116.04,237.90 L116.70,237.68 L117.36,237.44 L118.02,237.20 L118.68,236.96 L119.33,236.71 L119.99,236.46 L120.65,236.20 L121.31,235.94 L121.97,235.68 L122.63,235.41 L123.29,235.13 L123.94,234.85 L124.60,234.56 L125.26,234.27 L125.92,233.98 L126.58,233.68 L127.24,233.37 L127.90,233.06 L128.55,232.75 L129.21,232.42 L129.87,232.10 L130.53,231.77 L131.19,231.43 L131.85,231.09 L132.51,230.74 L133.17,230.39 L133.82,230.03 L134.48,229.66 L135.14,229.29 L135.80,228.92 L136.46,228.53 L137.12,228.15 L137.78,227.75 L138.43,227.36 L139.09,226.95 L139.75,226.54 L140.41,226.12 L141.07,225.70 L141.73,225.27 L142.39,224.84 L143.05,224.40 L143.70,223.95 L144.36,223.50 L145.02,223.04 L145.68,222.57 L146.34,222.10 L147.00,221.62 L147.66,221.14 L148.31,220.65 L148.97,220.15 L149.63,219.64 L150.29,219.13 L150.95,218.62 L151.61,218.09 L152.27,217.56 L152.92,217.02 L153.58,216.48 L154.24,215.93 L154.90,215.37 L155.56,214.80 L156.22,214.23 L156.88,213.65 L157.54,213.07 L158.19,212.47 L158.85,211.87 L159.51,211.27 L160.17,210.65 L160.83,210.03 L161.49,209.40 L162.15,208.76 L162.80,208.12 L163.46,207.47 L164.12,206.81 L164.78,206.14 L165.44,205.47 L166.10,204.78 L166.76,204.09 L167.42,203.40 L168.07,202.69 L168.73,201.98 L169.39,201.26 L170.05,200.53 L170.71,199.79 L171.37,199.05 L172.03,198.30 L172.68,197.54 L173.34,196.77 L174.00,195.99 L174.66,195.21 L175.32,194.41 L175.98,193.61 L176.64,192.80 L177.29,191.98 L177.95,191.16 L178.61,190.32 L179.27,189.48 L179.93,188.63 L180.59,187.77 L181.25,186.90 L181.91,186.02 L182.56,185.14 L183.22,184.24 L183.88,183.34 L184.54,182.42 L185.20,181.50 L185.86,180.57 L186.52,179.63 L187.17,178.68 L187.83,177.73 L188.49,176.76 L189.15,175.78 L189.81,174.80 L190.47,173.81 L191.13,172.80 L191.78,171.79 L192.44,170.77 L193.10,169.74 L193.76,168.70 L194.42,167.65 L195.08,166.59 L195.74,165.52 L196.40,164.44 L197.05,163.35 L197.71,162.25 L198.37,161.15 L199.03,160.03 L199.69,158.90 L200.35,157.76 L201.01,156.62 L201.66,155.46 L202.32,154.29 L202.98,153.12 L203.64,151.93 L204.30,150.73 L204.96,149.53 L205.62,148.31 L206.28,147.08 L206.93,145.84 L207.59,144.59 L208.25,143.34 L208.91,142.07 L209.57,140.79 L210.23,139.50 L210.89,138.20 L211.54,136.89 L212.20,135.56 L212.86,134.23 L213.52,132.89 L214.18,131.54 L214.84,130.17 L215.50,128.80 L216.15,127.41 L216.81,126.01 L217.47,124.60 L218.13,123.18 L218.79,121.75 L219.45,120.31 L220.11,118.86 L220.77,117.40 L221.42,115.92 L222.08,114.44 L222.74,112.94 L223.40,111.43 L224.06,109.91 L224.72,108.38 L225.38,106.84 L226.03,105.28 L226.69,103.72 L227.35,102.14 L228.01,100.55 L228.67,98.95 L229.33,97.34 L229.99,95.71 L230.65,94.08 L231.30,92.43 L231.96,90.77 L232.62,89.10 L233.28,87.41 L233.94,85.72 L234.60,84.01 L235.26,82.29 L235.91,80.55 L236.57,78.81 L237.23,77.05 L237.89,75.28 L238.55,73.50 L239.21,71.71 L239.87,69.90 L240.52,68.08 L241.18,66.25 L241.84,64.41 L242.50,62.55 L243.16,60.69 L243.82,58.80 L244.48,56.91 L245.14,55.00 L245.79,53.08 L246.45,51.15 L247.11,49.20 L247.77,47.25 L248.43,45.28 L249.09,43.29 L249.75,41.29 L250.40,39.28 L251.06,37.26 L251.72,35.22 L252.38,33.17 L253.04,31.11 L253.70,29.03 L254.36,26.94 L255.02,24.84 L255.67,22.72 L256.33,20.59 L256.99,18.45 L257.65,16.29 L258.31,14.12 L258.97,11.93 L259.63,9.74 L260.28,7.52 L260.94,5.30 L261.40,3.73" stroke="#ed1c24" stroke-dasharray="2.6 2.2"/>
<path d="M48.20,245.70 L48.86,245.70 L49.52,245.70 L50.18,245.70 L50.83,245.70 L51.49,245.70 L52.15,245.70 L52.81,245.70 L53.47,245.70 L54.13,245.70 L54.79,245.70 L55.45,245.70 L56.10,245.70 L56.76,245.70 L57.42,245.70 L58.08,245.70 L58.74,245.70 L59.40,245.70 L60.06,245.70 L60.71,245.70 L61.37,245.70 L62.03,245.70 L62.69,245.70 L63.35,245.70 L64.01,245.70 L64.67,245.70 L65.32,245.69 L65.98,245.69 L66.64,245.69 L67.30,245.69 L67.96,245.69 L68.62,245.69 L69.28,245.69 L69.94,245.69 L70.59,245.68 L71.25,245.68 L71.91,245.68 L72.57,245.68 L73.23,245.68 L73.89,245.67 L74.55,245.67 L75.20,245.67 L75.86,245.66 L76.52,245.66 L77.18,245.66 L77.84,245.65 L78.50,245.65 L79.16,245.64 L79.82,245.64 L80.47,245.63 L81.13,245.63 L81.79,245.62 L82.45,245.61 L83.11,245.61 L83.77,245.60 L84.43,245.59 L85.08,245.58 L85.74,245.58 L86.40,245.57 L87.06,245.56 L87.72,245.55 L88.38,245.54 L89.04,245.53 L89.69,245.51 L90.35,245.50 L91.01,245.49 L91.67,245.48 L92.33,245.46 L92.99,245.45 L93.65,245.43 L94.31,245.42 L94.96,245.40 L95.62,245.38 L96.28,245.37 L96.94,245.35 L97.60,245.33 L98.26,245.31 L98.92,245.29 L99.57,245.26 L100.23,245.24 L100.89,245.22 L101.55,245.19 L102.21,245.17 L102.87,245.14 L103.53,245.11 L104.18,245.09 L104.84,245.06 L105.50,245.03 L106.16,244.99 L106.82,244.96 L107.48,244.93 L108.14,244.89 L108.80,244.86 L109.45,244.82 L110.11,244.78 L110.77,244.74 L111.43,244.70 L112.09,244.66 L112.75,244.61 L113.41,244.57 L114.06,244.52 L114.72,244.47 L115.38,244.42 L116.04,244.37 L116.70,244.32 L117.36,244.27 L118.02,244.21 L118.68,244.16 L119.33,244.10 L119.99,244.04 L120.65,243.98 L121.31,243.91 L121.97,243.85 L122.63,243.78 L123.29,243.71 L123.94,243.64 L124.60,243.57 L125.26,243.49 L125.92,243.42 L126.58,243.34 L127.24,243.26 L127.90,243.17 L128.55,243.09 L129.21,243.00 L129.87,242.92 L130.53,242.82 L131.19,242.73 L131.85,242.64 L132.51,242.54 L133.17,242.44 L133.82,242.34 L134.48,242.23 L135.14,242.12 L135.80,242.01 L136.46,241.90 L137.12,241.79 L137.78,241.67 L138.43,241.55 L139.09,241.43 L139.75,241.30 L140.41,241.17 L141.07,241.04 L141.73,240.91 L142.39,240.77 L143.05,240.64 L143.70,240.49 L144.36,240.35 L145.02,240.20 L145.68,240.05 L146.34,239.89 L147.00,239.74 L147.66,239.58 L148.31,239.41 L148.97,239.25 L149.63,239.07 L150.29,238.90 L150.95,238.72 L151.61,238.54 L152.27,238.36 L152.92,238.17 L153.58,237.98 L154.24,237.79 L154.90,237.59 L155.56,237.38 L156.22,237.18 L156.88,236.97 L157.54,236.76 L158.19,236.54 L158.85,236.32 L159.51,236.09 L160.17,235.86 L160.83,235.63 L161.49,235.39 L162.15,235.15 L162.80,234.90 L163.46,234.65 L164.12,234.40 L164.78,234.14 L165.44,233.87 L166.10,233.61 L166.76,233.33 L167.42,233.06 L168.07,232.78 L168.73,232.49 L169.39,232.20 L170.05,231.90 L170.71,231.60 L171.37,231.30 L172.03,230.99 L172.68,230.67 L173.34,230.35 L174.00,230.02 L174.66,229.69 L175.32,229.36 L175.98,229.01 L176.64,228.67 L177.29,228.32 L177.95,227.96 L178.61,227.60 L179.27,227.23 L179.93,226.85 L180.59,226.47 L181.25,226.09 L181.91,225.70 L182.56,225.30 L183.22,224.90 L183.88,224.49 L184.54,224.07 L185.20,223.65 L185.86,223.22 L186.52,222.79 L187.17,222.35 L187.83,221.91 L188.49,221.45 L189.15,221.00 L189.81,220.53 L190.47,220.06 L191.13,219.58 L191.78,219.10 L192.44,218.60 L193.10,218.11 L193.76,217.60 L194.42,217.09 L195.08,216.57 L195.74,216.04 L196.40,215.51 L197.05,214.97 L197.71,214.42 L198.37,213.87 L199.03,213.31 L199.69,212.74 L200.35,212.16 L201.01,211.57 L201.66,210.98 L202.32,210.38 L202.98,209.77 L203.64,209.16 L204.30,208.54 L204.96,207.90 L205.62,207.27 L206.28,206.62 L206.93,205.96 L207.59,205.30 L208.25,204.63 L208.91,203.95 L209.57,203.26 L210.23,202.56 L210.89,201.86 L211.54,201.14 L212.20,200.42 L212.86,199.69 L213.52,198.95 L214.18,198.20 L214.84,197.44 L215.50,196.67 L216.15,195.89 L216.81,195.11 L217.47,194.31 L218.13,193.51 L218.79,192.69 L219.45,191.87 L220.11,191.04 L220.77,190.19 L221.42,189.34 L222.08,188.48 L222.74,187.61 L223.40,186.73 L224.06,185.84 L224.72,184.93 L225.38,184.02 L226.03,183.10 L226.69,182.17 L227.35,181.22 L228.01,180.27 L228.67,179.31 L229.33,178.33 L229.99,177.35 L230.65,176.35 L231.30,175.34 L231.96,174.33 L232.62,173.30 L233.28,172.26 L233.94,171.21 L234.60,170.14 L235.26,169.07 L235.91,167.98 L236.57,166.89 L237.23,165.78 L237.89,164.66 L238.55,163.53 L239.21,162.39 L239.87,161.23 L240.52,160.06 L241.18,158.88 L241.84,157.69 L242.50,156.49 L243.16,155.27 L243.82,154.05 L244.48,152.80 L245.14,151.55 L245.79,150.29 L246.45,149.01 L247.11,147.72 L247.77,146.41 L248.43,145.09 L249.09,143.76 L249.75,142.42 L250.40,141.06 L251.06,139.69 L251.72,138.31 L252.38,136.91 L253.04,135.50 L253.70,134.08 L254.36,132.64 L255.02,131.19 L255.67,129.72 L256.33,128.24 L256.99,126.75 L257.65,125.24 L258.31,123.72 L258.97,122.18 L259.63,120.63 L260.28,119.07 L260.94,117.49 L261.60,115.89 L262.26,114.28 L262.92,112.66 L263.58,111.02 L264.24,109.36 L264.89,107.69 L265.55,106.00 L266.21,104.30 L266.87,102.59 L267.53,100.85 L268.19,99.11 L268.85,97.34 L269.51,95.56 L270.16,93.77 L270.82,91.96 L271.48,90.13 L272.14,88.29 L272.80,86.43 L273.46,84.55 L274.12,82.66 L274.77,80.75 L275.43,78.82 L276.09,76.88 L276.75,74.92 L277.41,72.94 L278.07,70.95 L278.73,68.93 L279.38,66.90 L280.04,64.86 L280.70,62.79 L281.36,60.71 L282.02,58.61 L282.68,56.50 L283.34,54.36 L284.00,52.21 L284.65,50.04 L285.31,47.85 L285.97,45.64 L286.63,43.42 L287.29,41.17 L287.95,38.91 L288.61,36.63 L289.26,34.33 L289.92,32.01 L290.58,29.67 L291.24,27.31 L291.90,24.93 L292.56,22.54 L293.22,20.12 L293.88,17.69 L294.53,15.23 L295.19,12.76 L295.85,10.26 L296.51,7.75 L297.17,5.21 L297.55,3.73" stroke="#9e3288" stroke-dasharray="12 3 2.5 3" stroke-dashoffset="5.52"/>
</g>
<g clip-path="url(#cb)" fill="none" stroke-width="2.8">
<path d="M382.00,246.20 L382.10,245.71 L382.20,245.51 L382.30,245.35 L382.41,245.22 L382.51,245.11 L382.61,245.00 L382.71,244.91 L382.81,244.82 L382.91,244.73 L383.01,244.65 L383.11,244.58 L383.22,244.51 L383.32,244.44 L383.42,244.37 L383.52,244.31 L383.62,244.24 L383.72,244.18 L383.82,244.12 L383.92,244.07 L384.03,244.01 L384.13,243.96 L384.23,243.91 L384.33,243.85 L384.43,243.80 L384.53,243.75 L384.63,243.71 L384.73,243.66 L384.84,243.61 L384.94,243.57 L385.04,243.52 L385.14,243.48 L385.24,243.43 L385.34,243.39 L385.44,243.35 L385.54,243.31 L385.65,243.26 L385.75,243.22 L385.85,243.18 L385.95,243.14 L386.05,243.11 L386.15,243.07 L386.25,243.03 L386.35,242.99 L386.46,242.96 L386.56,242.92 L386.66,242.88 L386.76,242.85 L386.86,242.81 L386.96,242.78 L387.06,242.74 L387.16,242.71 L387.27,242.67 L387.37,242.64 L387.47,242.61 L387.57,242.57 L387.67,242.54 L387.77,242.51 L387.87,242.47 L387.97,242.44 L388.08,242.41 L388.18,242.38 L388.28,242.35 L388.38,242.32 L388.48,242.29 L388.58,242.26 L388.68,242.23 L388.78,242.20 L388.89,242.17 L388.99,242.14 L389.09,242.11 L389.19,242.08 L389.29,242.05 L389.39,242.02 L389.49,241.99 L389.59,241.96 L389.70,241.94 L389.80,241.91 L389.90,241.88 L390.00,241.85 L390.89,241.62 L391.77,241.39 L392.66,241.18 L393.55,240.98 L394.43,240.78 L395.32,240.59 L396.20,240.41 L397.09,240.23 L397.98,240.06 L398.86,239.89 L399.75,239.72 L400.64,239.56 L401.52,239.41 L402.41,239.26 L403.29,239.11 L404.18,238.96 L405.07,238.82 L405.95,238.68 L406.84,238.54 L407.73,238.40 L408.61,238.27 L409.50,238.14 L410.38,238.02 L411.27,237.90 L412.16,237.79 L413.04,237.68 L413.93,237.56 L414.82,237.45 L415.70,237.35 L416.59,237.24 L417.47,237.13 L418.36,237.03 L419.25,236.93 L420.13,236.82 L421.02,236.72 L421.91,236.63 L422.79,236.53 L423.68,236.43 L424.57,236.34 L425.45,236.24 L426.34,236.15 L427.22,236.06 L428.11,235.96 L429.00,235.87 L429.88,235.78 L430.77,235.69 L431.66,235.61 L432.54,235.52 L433.43,235.43 L434.31,235.35 L435.20,235.26 L436.09,235.18 L436.97,235.10 L437.86,235.01 L438.75,234.93 L439.63,234.85 L440.52,234.77 L441.40,234.69 L442.29,234.61 L443.18,234.53 L444.06,234.45 L444.95,234.38 L445.84,234.30 L446.72,234.22 L447.61,234.15 L448.49,234.07 L449.38,234.00 L450.27,233.92 L451.15,233.85 L452.04,233.78 L452.93,233.70 L453.81,233.63 L454.70,233.56 L455.59,233.49 L456.47,233.42 L457.36,233.35 L458.24,233.27 L459.13,233.20 L460.02,233.14 L460.90,233.07 L461.79,233.00 L462.68,232.93 L463.56,232.86 L464.45,232.79 L465.33,232.72 L466.22,232.66 L467.11,232.59 L467.99,232.52 L468.88,232.46 L469.77,232.39 L470.65,232.33 L471.54,232.26 L472.42,232.20 L473.31,232.13 L474.20,232.07 L475.08,232.00 L475.97,231.94 L476.86,231.87 L477.74,231.81 L478.63,231.75 L479.52,231.68 L480.40,231.62 L481.29,231.56 L482.17,231.50 L483.06,231.43 L483.95,231.37 L484.83,231.31 L485.72,231.25 L486.61,231.19 L487.49,231.13 L488.38,231.06 L489.26,231.00 L490.15,230.94 L491.04,230.88 L491.92,230.82 L492.81,230.76 L493.70,230.70 L494.58,230.64 L495.47,230.58 L496.35,230.52 L497.24,230.46 L498.13,230.40 L499.01,230.35 L499.90,230.29 L500.79,230.23 L501.67,230.17 L502.56,230.11 L503.44,230.05 L504.33,229.99 L505.22,229.94 L506.10,229.88 L506.99,229.82 L507.88,229.76 L508.76,229.70 L509.65,229.65 L510.54,229.59 L511.42,229.53 L512.31,229.47 L513.19,229.42 L514.08,229.36 L514.97,229.30 L515.85,229.25 L516.74,229.19 L517.63,229.13 L518.51,229.08 L519.40,229.02 L520.28,228.96 L521.17,228.91 L522.06,228.85 L522.94,228.79 L523.83,228.74 L524.72,228.68 L525.60,228.63 L526.49,228.57 L527.37,228.51 L528.26,228.46 L529.15,228.40 L530.03,228.35 L530.92,228.29 L531.81,228.23 L532.69,228.18 L533.58,228.12 L534.46,228.07 L535.35,228.01 L536.24,227.96 L537.12,227.90 L538.01,227.85 L538.90,227.79 L539.78,227.74 L540.67,227.68 L541.56,227.63 L542.44,227.57 L543.33,227.52 L544.21,227.46 L545.10,227.41 L545.99,227.35 L546.87,227.30 L547.76,227.24 L548.65,227.19 L549.53,227.13 L550.42,227.08 L551.30,227.02 L552.19,226.97 L553.08,226.91 L553.96,226.86 L554.85,226.80 L555.74,226.75 L556.62,226.69 L557.51,226.64 L558.39,226.59 L559.28,226.53 L560.17,226.48 L561.05,226.42 L561.94,226.37 L562.83,226.31 L563.71,226.26 L564.60,226.20 L565.48,226.15 L566.37,226.10 L567.26,226.04 L568.14,225.99 L569.03,225.93 L569.92,225.88 L570.80,225.83 L571.69,225.77 L572.58,225.72 L573.46,225.66 L574.35,225.61 L575.23,225.55 L576.12,225.50 L577.01,225.45 L577.89,225.39 L578.78,225.34 L579.67,225.28 L580.55,225.23 L581.44,225.18 L582.32,225.12 L583.21,225.07 L584.10,225.02 L584.98,224.96 L585.87,224.91 L586.76,224.85 L587.64,224.80 L588.53,224.75 L589.41,224.69 L590.30,224.64 L591.19,224.58 L592.07,224.53 L592.96,224.48 L593.85,224.42 L594.73,224.37 L595.62,224.32 L596.51,224.26 L597.39,224.21 L598.28,224.16 L599.16,224.10 L600.05,224.05 L600.94,224.00 L601.82,223.94 L602.71,223.89 L603.60,223.84 L604.48,223.78 L605.37,223.73 L606.25,223.68 L607.14,223.62 L608.03,223.57 L608.91,223.52 L609.80,223.46 L610.69,223.41 L611.57,223.36 L612.46,223.30 L613.34,223.25 L614.23,223.20 L615.12,223.14 L616.00,223.09 L616.89,223.04 L617.78,222.98 L618.66,222.93 L619.55,222.88 L620.43,222.83 L621.32,222.77 L622.21,222.72 L623.09,222.67 L623.98,222.61 L624.87,222.56 L625.75,222.51 L626.64,222.46 L627.53,222.40 L628.41,222.35 L629.30,222.30 L630.18,222.25 L631.07,222.19 L631.96,222.14 L632.84,222.09 L633.73,222.04 L634.62,221.99 L635.50,221.93 L636.39,221.88 L637.27,221.83 L638.16,221.78 L639.05,221.73 L639.93,221.67 L640.82,221.62 L641.71,221.57 L642.59,221.52 L643.48,221.47 L644.36,221.41 L645.25,221.36 L646.14,221.31 L647.02,221.26 L647.91,221.21 L648.80,221.16 L649.68,221.11 L650.57,221.06 L651.45,221.00 L652.34,220.95 L653.23,220.90 L654.11,220.85 L655.00,220.80" stroke="#2e3192" stroke-width="2.4"/>
<path d="M382.00,216.00 L655.00,216.00" stroke="#078707" stroke-width="2.4" stroke-dasharray="14.3 6.8" stroke-dashoffset="3.9"/>
<path d="M392.17,3.90 L392.22,4.45 L392.29,5.20 L392.36,5.94 L392.43,6.68 L392.49,7.41 L392.56,8.13 L392.63,8.84 L392.70,9.55 L392.77,10.26 L392.83,10.95 L392.90,11.64 L392.97,12.33 L393.04,13.01 L393.11,13.68 L393.17,14.35 L393.24,15.01 L393.31,15.66 L393.38,16.31 L393.45,16.96 L393.51,17.59 L393.58,18.23 L393.65,18.85 L393.72,19.48 L393.79,20.10 L393.85,20.71 L393.92,21.32 L393.99,21.92 L394.06,22.52 L394.13,23.11 L394.20,23.70 L394.26,24.28 L394.33,24.86 L394.40,25.43 L394.47,26.00 L394.54,26.57 L394.60,27.13 L394.67,27.69 L394.74,28.24 L394.81,28.79 L394.88,29.33 L394.94,29.87 L395.01,30.41 L395.08,30.94 L395.60,34.88 L396.12,38.62 L396.64,42.16 L397.16,45.52 L397.68,48.72 L398.21,51.77 L398.73,54.68 L399.25,57.46 L399.77,60.13 L400.29,62.68 L400.81,65.13 L401.33,67.48 L401.85,69.75 L402.37,71.92 L402.89,74.02 L403.41,76.04 L403.93,78.00 L404.46,79.88 L404.98,81.71 L405.50,83.47 L406.02,85.18 L406.54,86.83 L407.06,88.43 L407.58,89.99 L408.10,91.50 L408.62,92.97 L409.14,94.39 L409.66,95.77 L410.19,97.12 L410.71,98.43 L411.23,99.71 L411.75,100.95 L412.27,102.17 L412.79,103.35 L413.31,104.50 L413.83,105.62 L414.35,106.72 L414.87,107.79 L415.39,108.84 L415.92,109.87 L416.44,110.87 L416.96,111.85 L417.48,112.80 L418.00,113.74 L418.52,114.66 L419.04,115.56 L419.56,116.43 L420.08,117.30 L420.60,118.14 L421.12,118.97 L421.64,119.78 L422.17,120.58 L422.69,121.36 L423.21,122.12 L423.73,122.88 L424.25,123.61 L424.77,124.34 L425.29,125.05 L425.81,125.75 L426.33,126.44 L426.85,127.11 L427.37,127.78 L427.90,128.43 L428.42,129.07 L428.94,129.70 L429.46,130.33 L429.98,130.94 L430.50,131.54 L431.02,132.13 L431.54,132.71 L432.06,133.29 L432.58,133.85 L433.10,134.41 L433.63,134.96 L434.15,135.50 L434.67,136.03 L435.19,136.55 L435.71,137.07 L436.23,137.58 L436.75,138.08 L437.27,138.57 L437.79,139.06 L438.31,139.54 L438.83,140.02 L439.35,140.49 L439.88,140.95 L440.40,141.40 L440.92,141.85 L441.44,142.30 L441.96,142.74 L442.48,143.17 L443.00,143.60 L443.52,144.02 L444.04,144.43 L444.56,144.85 L445.08,145.25 L445.61,145.65 L446.13,146.05 L446.65,146.44 L447.17,146.83 L447.69,147.21 L448.21,147.59 L448.73,147.96 L449.25,148.33 L449.77,148.70 L450.29,149.06 L450.81,149.42 L451.34,149.77 L451.86,150.12 L452.38,150.46 L452.90,150.80 L453.42,151.14 L453.94,151.48 L454.46,151.81 L454.98,152.13 L455.50,152.46 L456.02,152.78 L456.54,153.09 L457.06,153.41 L457.59,153.72 L458.11,154.02 L458.63,154.33 L459.15,154.63 L459.67,154.93 L460.19,155.22 L460.71,155.51 L461.23,155.80 L461.75,156.09 L462.27,156.37 L462.79,156.65 L463.32,156.93 L463.84,157.21 L464.36,157.48 L464.88,157.75 L465.40,158.02 L465.92,158.28 L466.44,158.55 L466.96,158.81 L467.48,159.06 L468.00,159.32 L468.52,159.57 L469.05,159.83 L469.57,160.07 L470.09,160.32 L470.61,160.57 L471.13,160.81 L471.65,161.05 L472.17,161.29 L472.69,161.52 L473.21,161.76 L473.73,161.99 L474.25,162.22 L474.77,162.45 L475.30,162.68 L475.82,162.90 L476.34,163.12 L476.86,163.34 L477.38,163.56 L477.90,163.78 L478.42,164.00 L478.94,164.21 L479.46,164.42 L479.98,164.63 L480.50,164.84 L481.03,165.05 L481.55,165.25 L482.07,165.46 L482.59,165.66 L483.11,165.86 L483.63,166.06 L484.15,166.26 L484.67,166.45 L485.19,166.65 L485.71,166.84 L486.23,167.04 L486.76,167.23 L487.28,167.41 L487.80,167.60 L488.32,167.79 L488.84,167.97 L489.36,168.16 L489.88,168.34 L490.40,168.52 L490.92,168.70 L491.44,168.88 L491.96,169.06 L492.48,169.23 L493.01,169.41 L493.53,169.58 L494.05,169.75 L494.57,169.92 L495.09,170.09 L495.61,170.26 L496.13,170.43 L496.65,170.60 L497.17,170.76 L497.69,170.93 L498.21,171.09 L498.74,171.25 L499.26,171.41 L499.78,171.57 L500.30,171.73 L500.82,171.89 L501.34,172.04 L501.86,172.20 L502.38,172.36 L502.90,172.51 L503.42,172.66 L503.94,172.81 L504.47,172.96 L504.99,173.11 L505.51,173.26 L506.03,173.41 L506.55,173.56 L507.07,173.70 L507.59,173.85 L508.11,173.99 L508.63,174.14 L509.15,174.28 L509.67,174.42 L510.19,174.56 L510.72,174.70 L511.24,174.84 L511.76,174.98 L512.28,175.12 L512.80,175.25 L513.32,175.39 L513.84,175.52 L514.36,175.66 L514.88,175.79 L515.40,175.93 L515.92,176.06 L516.45,176.19 L516.97,176.32 L517.49,176.45 L518.01,176.58 L518.53,176.71 L519.05,176.83 L519.57,176.96 L520.09,177.09 L520.61,177.21 L521.13,177.34 L521.65,177.46 L522.18,177.58 L522.70,177.71 L523.22,177.83 L523.74,177.95 L524.26,178.07 L524.78,178.19 L525.30,178.31 L525.82,178.43 L526.34,178.54 L526.86,178.66 L527.38,178.78 L527.90,178.89 L528.43,179.01 L528.95,179.12 L529.47,179.24 L529.99,179.35 L530.51,179.47 L531.03,179.58 L531.55,179.69 L532.07,179.80 L532.59,179.91 L533.11,180.02 L533.63,180.13 L534.16,180.24 L534.68,180.35 L535.20,180.46 L535.72,180.56 L536.24,180.67 L536.76,180.78 L537.28,180.88 L537.80,180.99 L538.32,181.09 L538.84,181.20 L539.36,181.30 L539.89,181.40 L540.41,181.51 L540.93,181.61 L541.45,181.71 L541.97,181.81 L542.49,181.91 L543.01,182.01 L543.53,182.11 L544.05,182.21 L544.57,182.31 L545.09,182.41 L545.61,182.51 L546.14,182.60 L546.66,182.70 L547.18,182.80 L547.70,182.89 L548.22,182.99 L548.74,183.08 L549.26,183.18 L549.78,183.27 L550.30,183.36 L550.82,183.46 L551.34,183.55 L551.87,183.64 L552.39,183.74 L552.91,183.83 L553.43,183.92 L553.95,184.01 L554.47,184.10 L554.99,184.19 L555.51,184.28 L556.03,184.37 L556.55,184.46 L557.07,184.54 L557.60,184.63 L558.12,184.72 L558.64,184.81 L559.16,184.89 L559.68,184.98 L560.20,185.07 L560.72,185.15 L561.24,185.24 L561.76,185.32 L562.28,185.41 L562.80,185.49 L563.32,185.57 L563.85,185.66 L564.37,185.74 L564.89,185.82 L565.41,185.91 L565.93,185.99 L566.45,186.07 L566.97,186.15 L567.49,186.23 L568.01,186.31 L568.53,186.39 L569.05,186.47 L569.58,186.55 L570.10,186.63 L570.62,186.71 L571.14,186.79 L571.66,186.87 L572.18,186.95 L572.70,187.02 L573.22,187.10 L573.74,187.18 L574.26,187.26 L574.78,187.33 L575.31,187.41 L575.83,187.48 L576.35,187.56 L576.87,187.64 L577.39,187.71 L577.91,187.78 L578.43,187.86 L578.95,187.93 L579.47,188.01 L579.99,188.08 L580.51,188.15 L581.03,188.23 L581.56,188.30 L582.08,188.37 L582.60,188.44 L583.12,188.52 L583.64,188.59 L584.16,188.66 L584.68,188.73 L585.20,188.80 L585.72,188.87 L586.24,188.94 L586.76,189.01 L587.29,189.08 L587.81,189.15 L588.33,189.22 L588.85,189.29 L589.37,189.36 L589.89,189.42 L590.41,189.49 L590.93,189.56 L591.45,189.63 L591.97,189.69 L592.49,189.76 L593.02,189.83 L593.54,189.89 L594.06,189.96 L594.58,190.03 L595.10,190.09 L595.62,190.16 L596.14,190.22 L596.66,190.29 L597.18,190.35 L597.70,190.42 L598.22,190.48 L598.74,190.55 L599.27,190.61 L599.79,190.67 L600.31,190.74 L600.83,190.80 L601.35,190.86 L601.87,190.93 L602.39,190.99 L602.91,191.05 L603.43,191.11 L603.95,191.18 L604.47,191.24 L605.00,191.30 L605.52,191.36 L606.04,191.42 L606.56,191.48 L607.08,191.54 L607.60,191.60 L608.12,191.66 L608.64,191.72 L609.16,191.78 L609.68,191.84 L610.20,191.90 L610.73,191.96 L611.25,192.02 L611.77,192.08 L612.29,192.14 L612.81,192.20 L613.33,192.26 L613.85,192.31 L614.37,192.37 L614.89,192.43 L615.41,192.49 L615.93,192.54 L616.45,192.60 L616.98,192.66 L617.50,192.71 L618.02,192.77 L618.54,192.83 L619.06,192.88 L619.58,192.94 L620.10,192.99 L620.62,193.05 L621.14,193.11 L621.66,193.16 L622.18,193.22 L622.71,193.27 L623.23,193.33 L623.75,193.38 L624.27,193.43 L624.79,193.49 L625.31,193.54 L625.83,193.60 L626.35,193.65 L626.87,193.70 L627.39,193.76 L627.91,193.81 L628.44,193.86 L628.96,193.91 L629.48,193.97 L630.00,194.02 L630.52,194.07 L631.04,194.12 L631.56,194.18 L632.08,194.23 L632.60,194.28 L633.12,194.33 L633.64,194.38 L634.16,194.43 L634.69,194.48 L635.21,194.54 L635.73,194.59 L636.25,194.64 L636.77,194.69 L637.29,194.74 L637.81,194.79 L638.33,194.84 L638.85,194.89 L639.37,194.94 L639.89,194.99 L640.42,195.04 L640.94,195.08 L641.46,195.13 L641.98,195.18 L642.50,195.23 L643.02,195.28 L643.54,195.33 L644.06,195.38 L644.58,195.42 L645.10,195.47 L645.62,195.52 L646.15,195.57 L646.67,195.62 L647.19,195.66 L647.71,195.71 L648.23,195.76 L648.75,195.80 L649.27,195.85 L649.79,195.90 L650.31,195.94 L650.83,195.99 L651.35,196.04 L651.87,196.08 L652.40,196.13 L652.92,196.18 L653.44,196.22 L653.96,196.27 L654.48,196.31 L655.00,196.36" stroke="#ed1c24" stroke-dasharray="2.6 2.2"/>
<path d="M481.32,3.90 L481.55,4.44 L482.07,5.68 L482.59,6.91 L483.11,8.12 L483.63,9.32 L484.15,10.51 L484.67,11.69 L485.19,12.86 L485.71,14.01 L486.23,15.15 L486.76,16.28 L487.28,17.41 L487.80,18.51 L488.32,19.61 L488.84,20.70 L489.36,21.78 L489.88,22.85 L490.40,23.90 L490.92,24.95 L491.44,25.99 L491.96,27.01 L492.48,28.03 L493.01,29.04 L493.53,30.04 L494.05,31.03 L494.57,32.01 L495.09,32.98 L495.61,33.94 L496.13,34.89 L496.65,35.84 L497.17,36.78 L497.69,37.70 L498.21,38.62 L498.74,39.54 L499.26,40.44 L499.78,41.33 L500.30,42.22 L500.82,43.10 L501.34,43.98 L501.86,44.84 L502.38,45.70 L502.90,46.55 L503.42,47.39 L503.94,48.23 L504.47,49.05 L504.99,49.88 L505.51,50.69 L506.03,51.50 L506.55,52.30 L507.07,53.09 L507.59,53.88 L508.11,54.66 L508.63,55.44 L509.15,56.21 L509.67,56.97 L510.19,57.73 L510.72,58.48 L511.24,59.22 L511.76,59.96 L512.28,60.69 L512.80,61.42 L513.32,62.14 L513.84,62.86 L514.36,63.57 L514.88,64.27 L515.40,64.97 L515.92,65.66 L516.45,66.35 L516.97,67.03 L517.49,67.71 L518.01,68.38 L518.53,69.05 L519.05,69.71 L519.57,70.37 L520.09,71.02 L520.61,71.67 L521.13,72.31 L521.65,72.95 L522.18,73.58 L522.70,74.21 L523.22,74.83 L523.74,75.45 L524.26,76.07 L524.78,76.68 L525.30,77.28 L525.82,77.88 L526.34,78.48 L526.86,79.07 L527.38,79.66 L527.90,80.24 L528.43,80.82 L528.95,81.40 L529.47,81.97 L529.99,82.54 L530.51,83.10 L531.03,83.66 L531.55,84.22 L532.07,84.77 L532.59,85.32 L533.11,85.87 L533.63,86.41 L534.16,86.95 L534.68,87.48 L535.20,88.01 L535.72,88.54 L536.24,89.06 L536.76,89.58 L537.28,90.09 L537.80,90.61 L538.32,91.12 L538.84,91.62 L539.36,92.12 L539.89,92.62 L540.41,93.12 L540.93,93.61 L541.45,94.10 L541.97,94.59 L542.49,95.07 L543.01,95.55 L543.53,96.03 L544.05,96.50 L544.57,96.97 L545.09,97.44 L545.61,97.91 L546.14,98.37 L546.66,98.83 L547.18,99.28 L547.70,99.74 L548.22,100.19 L548.74,100.63 L549.26,101.08 L549.78,101.52 L550.30,101.96 L550.82,102.40 L551.34,102.83 L551.87,103.26 L552.39,103.69 L552.91,104.12 L553.43,104.54 L553.95,104.96 L554.47,105.38 L554.99,105.80 L555.51,106.21 L556.03,106.62 L556.55,107.03 L557.07,107.43 L557.60,107.84 L558.12,108.24 L558.64,108.64 L559.16,109.04 L559.68,109.43 L560.20,109.82 L560.72,110.21 L561.24,110.60 L561.76,110.98 L562.28,111.37 L562.80,111.75 L563.32,112.13 L563.85,112.50 L564.37,112.88 L564.89,113.25 L565.41,113.62 L565.93,113.99 L566.45,114.35 L566.97,114.72 L567.49,115.08 L568.01,115.44 L568.53,115.80 L569.05,116.15 L569.58,116.51 L570.10,116.86 L570.62,117.21 L571.14,117.56 L571.66,117.90 L572.18,118.25 L572.70,118.59 L573.22,118.93 L573.74,119.27 L574.26,119.61 L574.78,119.94 L575.31,120.27 L575.83,120.61 L576.35,120.94 L576.87,121.26 L577.39,121.59 L577.91,121.91 L578.43,122.24 L578.95,122.56 L579.47,122.88 L579.99,123.20 L580.51,123.51 L581.03,123.83 L581.56,124.14 L582.08,124.45 L582.60,124.76 L583.12,125.07 L583.64,125.37 L584.16,125.68 L584.68,125.98 L585.20,126.28 L585.72,126.58 L586.24,126.88 L586.76,127.18 L587.29,127.47 L587.81,127.77 L588.33,128.06 L588.85,128.35 L589.37,128.64 L589.89,128.93 L590.41,129.22 L590.93,129.50 L591.45,129.79 L591.97,130.07 L592.49,130.35 L593.02,130.63 L593.54,130.91 L594.06,131.18 L594.58,131.46 L595.10,131.73 L595.62,132.01 L596.14,132.28 L596.66,132.55 L597.18,132.82 L597.70,133.09 L598.22,133.35 L598.74,133.62 L599.27,133.88 L599.79,134.14 L600.31,134.41 L600.83,134.67 L601.35,134.92 L601.87,135.18 L602.39,135.44 L602.91,135.69 L603.43,135.95 L603.95,136.20 L604.47,136.45 L605.00,136.70 L605.52,136.95 L606.04,137.20 L606.56,137.45 L607.08,137.69 L607.60,137.94 L608.12,138.18 L608.64,138.43 L609.16,138.67 L609.68,138.91 L610.20,139.15 L610.73,139.38 L611.25,139.62 L611.77,139.86 L612.29,140.09 L612.81,140.33 L613.33,140.56 L613.85,140.79 L614.37,141.02 L614.89,141.25 L615.41,141.48 L615.93,141.71 L616.45,141.93 L616.98,142.16 L617.50,142.38 L618.02,142.61 L618.54,142.83 L619.06,143.05 L619.58,143.27 L620.10,143.49 L620.62,143.71 L621.14,143.93 L621.66,144.15 L622.18,144.36 L622.71,144.58 L623.23,144.79 L623.75,145.01 L624.27,145.22 L624.79,145.43 L625.31,145.64 L625.83,145.85 L626.35,146.06 L626.87,146.27 L627.39,146.47 L627.91,146.68 L628.44,146.88 L628.96,147.09 L629.48,147.29 L630.00,147.49 L630.52,147.70 L631.04,147.90 L631.56,148.10 L632.08,148.30 L632.60,148.50 L633.12,148.69 L633.64,148.89 L634.16,149.09 L634.69,149.28 L635.21,149.48 L635.73,149.67 L636.25,149.86 L636.77,150.05 L637.29,150.25 L637.81,150.44 L638.33,150.63 L638.85,150.81 L639.37,151.00 L639.89,151.19 L640.42,151.38 L640.94,151.56 L641.46,151.75 L641.98,151.93 L642.50,152.12 L643.02,152.30 L643.54,152.48 L644.06,152.66 L644.58,152.84 L645.10,153.02 L645.62,153.20 L646.15,153.38 L646.67,153.56 L647.19,153.74 L647.71,153.91 L648.23,154.09 L648.75,154.26 L649.27,154.44 L649.79,154.61 L650.31,154.79 L650.83,154.96 L651.35,155.13 L651.87,155.30 L652.40,155.47 L652.92,155.64 L653.44,155.81 L653.96,155.98 L654.48,156.15 L655.00,156.31" stroke="#9e3288" stroke-dasharray="15.5 2.8 2.8 2.9" stroke-dashoffset="1.9"/>
</g>
<rect x="48.2" y="7.7" width="262.80" height="238.30" fill="none" stroke="#1c1819" stroke-width="1.9"/>
<rect x="382.0" y="4.9" width="273.00" height="241.30" fill="none" stroke="#1c1819" stroke-width="1.9"/>
<g stroke="#1c1819" stroke-width="1.9">
<line x1="113.90" y1="246.0" x2="113.90" y2="240.4"/>
<line x1="113.90" y1="7.7" x2="113.90" y2="13.100000000000001"/>
<line x1="179.60" y1="246.0" x2="179.60" y2="240.4"/>
<line x1="179.60" y1="7.7" x2="179.60" y2="13.100000000000001"/>
<line x1="245.30" y1="246.0" x2="245.30" y2="240.4"/>
<line x1="245.30" y1="7.7" x2="245.30" y2="13.100000000000001"/>
<line x1="48.2" y1="166.37" x2="52.800000000000004" y2="166.37"/>
<line x1="311.0" y1="166.37" x2="306.4" y2="166.37"/>
<line x1="48.2" y1="87.03" x2="52.800000000000004" y2="87.03"/>
<line x1="311.0" y1="87.03" x2="306.4" y2="87.03"/>
<line x1="449.80" y1="246.2" x2="449.80" y2="240.29999999999998"/>
<line x1="449.80" y1="4.9" x2="449.80" y2="10.3"/>
<line x1="518.20" y1="246.2" x2="518.20" y2="240.29999999999998"/>
<line x1="518.20" y1="4.9" x2="518.20" y2="10.3"/>
<line x1="586.60" y1="246.2" x2="586.60" y2="240.29999999999998"/>
<line x1="586.60" y1="4.9" x2="586.60" y2="10.3"/>
<line x1="382.0" y1="193.75" x2="389.2" y2="193.75"/>
<line x1="655.0" y1="193.75" x2="647.8" y2="193.75"/>
<line x1="382.0" y1="143.50" x2="389.2" y2="143.50"/>
<line x1="655.0" y1="143.50" x2="647.8" y2="143.50"/>
<line x1="382.0" y1="93.25" x2="389.2" y2="93.25"/>
<line x1="655.0" y1="93.25" x2="647.8" y2="93.25"/>
<line x1="382.0" y1="43.00" x2="389.2" y2="43.00"/>
<line x1="655.0" y1="43.00" x2="647.8" y2="43.00"/>
</g>
<text transform="translate(43.48,264.10) scale(0.965,1)" font-size="17.6" fill="#1c1819" stroke="#1c1819" stroke-width="0.15">0</text>
<text transform="translate(103.90,264.10) scale(0.965,1)" font-size="17.6" fill="#1c1819" stroke="#1c1819" stroke-width="0.15">0.</text>
<path transform="translate(118.06,264.10) scale(16.9840,-17.6000)" d="M0.3726 0L0.2847 0L0.2847 0.5601Q0.2529 0.5298 0.2014 0.4995Q0.1499 0.4692 0.1089 0.4541L0.1089 0.5391Q0.1826 0.5737 0.2378 0.623Q0.293 0.6724 0.3159 0.7188L0.3726 0.7188Z" fill="#1c1819" stroke="#1c1819" stroke-width="0.0085"/>
<text transform="translate(169.60,264.10) scale(0.965,1)" font-size="17.6" fill="#1c1819" stroke="#1c1819" stroke-width="0.15">0.2</text>
<text transform="translate(234.10,264.10) scale(0.965,1)" font-size="17.6" fill="#1c1819" stroke="#1c1819" stroke-width="0.15">0.3</text>
<text transform="translate(299.70,264.10) scale(0.965,1)" font-size="17.6" fill="#1c1819" stroke="#1c1819" stroke-width="0.15">0.4</text>
<text transform="translate(35.06,252.80) scale(0.965,1)" font-size="17.6" fill="#1c1819" stroke="#1c1819" stroke-width="0.15">0</text>
<text transform="translate(25.61,172.87) scale(0.965,1)" font-size="17.6" fill="#1c1819" stroke="#1c1819" stroke-width="0.15">20</text>
<text transform="translate(25.61,95.03) scale(0.965,1)" font-size="17.6" fill="#1c1819" stroke="#1c1819" stroke-width="0.15">40</text>
<text transform="translate(25.61,13.20) scale(0.965,1)" font-size="17.6" fill="#1c1819" stroke="#1c1819" stroke-width="0.15">60</text>
<text transform="translate(378.88,264.10) scale(0.965,1)" font-size="17.6" fill="#1c1819" stroke="#1c1819" stroke-width="0.15">0</text>
<text transform="translate(445.48,264.10) scale(0.965,1)" font-size="17.6" fill="#1c1819" stroke="#1c1819" stroke-width="0.15">5</text>
<path transform="translate(510.46,264.10) scale(16.9840,-17.6000)" d="M0.3726 0L0.2847 0L0.2847 0.5601Q0.2529 0.5298 0.2014 0.4995Q0.1499 0.4692 0.1089 0.4541L0.1089 0.5391Q0.1826 0.5737 0.2378 0.623Q0.293 0.6724 0.3159 0.7188L0.3726 0.7188Z" fill="#1c1819" stroke="#1c1819" stroke-width="0.0085"/>
<text transform="translate(519.90,264.10) scale(0.965,1)" font-size="17.6" fill="#1c1819" stroke="#1c1819" stroke-width="0.15">0</text>
<path transform="translate(576.76,264.10) scale(16.9840,-17.6000)" d="M0.3726 0L0.2847 0L0.2847 0.5601Q0.2529 0.5298 0.2014 0.4995Q0.1499 0.4692 0.1089 0.4541L0.1089 0.5391Q0.1826 0.5737 0.2378 0.623Q0.293 0.6724 0.3159 0.7188L0.3726 0.7188Z" fill="#1c1819" stroke="#1c1819" stroke-width="0.0085"/>
<text transform="translate(586.20,264.10) scale(0.965,1)" font-size="17.6" fill="#1c1819" stroke="#1c1819" stroke-width="0.15">5</text>
<text transform="translate(644.56,264.10) scale(0.965,1)" font-size="17.6" fill="#1c1819" stroke="#1c1819" stroke-width="0.15">20</text>
<text transform="translate(367.56,201.15) scale(0.965,1)" font-size="17.6" fill="#1c1819" stroke="#1c1819" stroke-width="0.15">5</text>
<path transform="translate(360.21,151.00) scale(16.9840,-17.6000)" d="M0.3726 0L0.2847 0L0.2847 0.5601Q0.2529 0.5298 0.2014 0.4995Q0.1499 0.4692 0.1089 0.4541L0.1089 0.5391Q0.1826 0.5737 0.2378 0.623Q0.293 0.6724 0.3159 0.7188L0.3726 0.7188Z" fill="#1c1819" stroke="#1c1819" stroke-width="0.0085"/>
<text transform="translate(369.66,151.00) scale(0.965,1)" font-size="17.6" fill="#1c1819" stroke="#1c1819" stroke-width="0.15">0</text>
<path transform="translate(360.41,100.25) scale(16.9840,-17.6000)" d="M0.3726 0L0.2847 0L0.2847 0.5601Q0.2529 0.5298 0.2014 0.4995Q0.1499 0.4692 0.1089 0.4541L0.1089 0.5391Q0.1826 0.5737 0.2378 0.623Q0.293 0.6724 0.3159 0.7188L0.3726 0.7188Z" fill="#1c1819" stroke="#1c1819" stroke-width="0.0085"/>
<text transform="translate(369.86,100.25) scale(0.965,1)" font-size="17.6" fill="#1c1819" stroke="#1c1819" stroke-width="0.15">5</text>
<text transform="translate(360.21,49.50) scale(0.965,1)" font-size="17.6" fill="#1c1819" stroke="#1c1819" stroke-width="0.15">20</text>
<text x="180.3" y="288.6" font-size="18" fill="#1c1819" stroke="#1c1819" stroke-width="0.15" text-anchor="middle">k [nm<tspan dy="-10" dx="0.3" font-size="12.5">−1</tspan><tspan dy="10" dx="0.5" font-size="18">]</tspan></text>
<text transform="translate(13.6,183.3) rotate(-90)" font-size="17.4" fill="#1c1819" stroke="#1c1819" stroke-width="0.15">Energy (meV)</text>
<text x="457.6" y="287.3" font-size="15.5" fill="#1c1819">Density <tspan dx="1">(10</tspan><tspan dy="-7.2" dx="0.8" font-size="11">11</tspan><tspan dy="7.2" font-size="15.5"> cm</tspan><tspan dy="-7.2" dx="0.8" font-size="11">-2</tspan><tspan dy="7.2" font-size="15.5"> )</tspan></text>
<text transform="translate(350.3,200.9) rotate(-90)" font-size="19.5" fill="#1c1819">DOS (eV<tspan dy="-9" dx="2.7" font-size="14.5">-1</tspan><tspan dy="9" dx="-1.2" font-size="19.5"> nm</tspan><tspan dy="-9" dx="0.5" font-size="14.5">-2</tspan><tspan dy="9" dx="-0.6" font-size="19.5"> )</tspan></text>
<text x="55.2" y="30.8" font-size="22" fill="#1c1819">(a)</text>
<text x="622.6" y="30" font-size="22" fill="#1c1819">(b)</text>
<text transform="translate(107.00,48.90) scale(0.96,1)" font-size="20.8" fill="#2e3192" stroke="#2e3192" stroke-width="0.15">N=</text>
<path transform="translate(133.08,48.90) scale(19.9680,-20.8000)" d="M0.3726 0L0.2847 0L0.2847 0.5601Q0.2529 0.5298 0.2014 0.4995Q0.1499 0.4692 0.1089 0.4541L0.1089 0.5391Q0.1826 0.5737 0.2378 0.623Q0.293 0.6724 0.3159 0.7188L0.3726 0.7188Z" fill="#2e3192" stroke="#2e3192" stroke-width="0.0072"/>
<text transform="translate(129.00,103.00) scale(0.96,1)" font-size="20.8" fill="#078707" stroke="#078707" stroke-width="0.15">N=2</text>
<text transform="translate(164.20,154.90) scale(0.96,1)" font-size="20.8" fill="#ed1c24" stroke="#ed1c24" stroke-width="0.15">N=3</text>
<text transform="translate(207.00,226.90) scale(0.96,1)" font-size="20.8" fill="#9e3288" stroke="#9e3288" stroke-width="0.15">N=4</text>
<text transform="translate(511.00,55.00) scale(0.96,1)" font-size="20.8" fill="#9e3288" stroke="#9e3288" stroke-width="0.15">N=4</text>
<text transform="translate(421.00,113.00) scale(0.96,1)" font-size="20.8" fill="#ed1c24" stroke="#ed1c24" stroke-width="0.15">N=3</text>
<text transform="translate(412.40,212.40) scale(0.96,1)" font-size="20.8" fill="#078707" stroke="#078707" stroke-width="0.15">N=2</text>
<text transform="translate(614.00,240.40) scale(0.96,1)" font-size="20.8" fill="#2e3192" stroke="#2e3192" stroke-width="0.15">N=</text>
<path transform="translate(640.08,240.40) scale(19.9680,-20.8000)" d="M0.3726 0L0.2847 0L0.2847 0.5601Q0.2529 0.5298 0.2014 0.4995Q0.1499 0.4692 0.1089 0.4541L0.1089 0.5391Q0.1826 0.5737 0.2378 0.623Q0.293 0.6724 0.3159 0.7188L0.3726 0.7188Z" fill="#2e3192" stroke="#2e3192" stroke-width="0.0072"/>
</svg></body></html>
